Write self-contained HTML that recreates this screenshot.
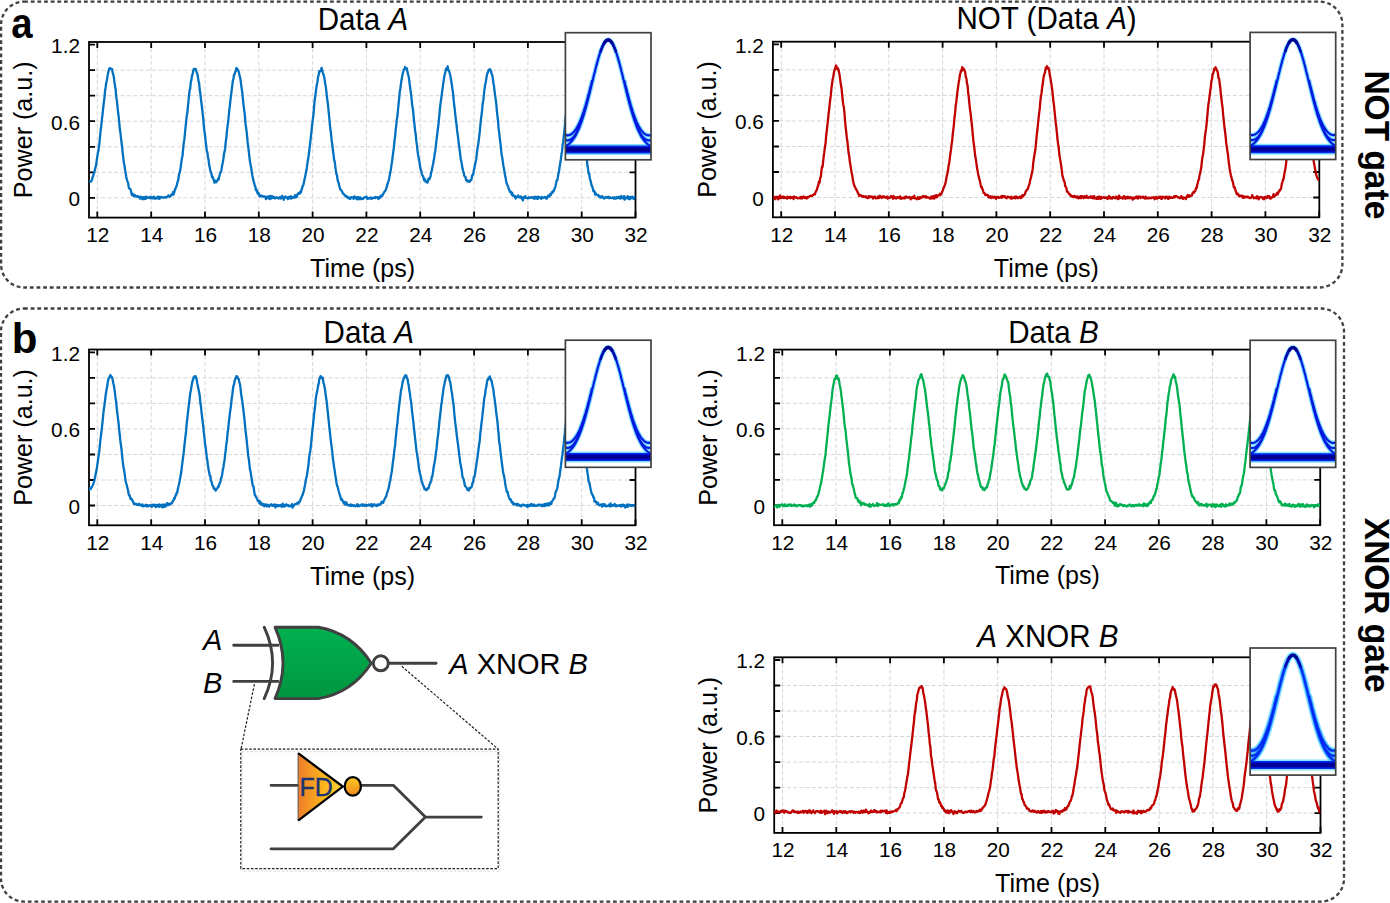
<!DOCTYPE html>
<html><head><meta charset="utf-8"><title>XNOR</title>
<style>html,body{margin:0;padding:0;background:#fff;overflow:hidden}svg{display:block}</style>
</head><body>
<svg width="1390" height="903" viewBox="0 0 1390 903" font-family='"Liberation Sans", sans-serif'>
<rect width="1390" height="903" fill="#fff"/>
<rect x="1.1" y="1.6" width="1341.3" height="285.9" rx="23" fill="none" stroke="#404040" stroke-width="2.3" stroke-dasharray="3.8 2.85"/>
<rect x="1" y="308.5" width="1343" height="593.1" rx="23" fill="none" stroke="#404040" stroke-width="2.3" stroke-dasharray="3.8 2.85"/>
<text transform="translate(11.2 37.6) scale(0.912 1)" font-size="42" font-weight="bold">a</text>
<text x="11.7" y="352.8" font-size="42" font-weight="bold">b</text>
<text transform="translate(1365.2 144.85) rotate(90) scale(1 1.06)" font-size="33.5" font-weight="bold" text-anchor="middle">NOT gate</text>
<text transform="translate(1364.9 605.25) rotate(90) scale(1 1.06)" font-size="33.5" font-weight="bold" text-anchor="middle">XNOR gate</text>
<path d="M97.3 42V217.6M151.2 42V217.6M205 42V217.6M258.8 42V217.6M312.6 42V217.6M366.4 42V217.6M420.2 42V217.6M474.1 42V217.6M527.9 42V217.6M581.7 42V217.6M89 197.8H635.5M89 172.3H635.5M89 146.8H635.5M89 121.2H635.5M89 95.7H635.5M89 70.2H635.5" stroke="#d6d6d6" stroke-width="1" stroke-dasharray="4 2.3" fill="none"/>
<path d="M97.3 217.6v-6M97.3 42v6M151.2 217.6v-6M151.2 42v6M205 217.6v-6M205 42v6M258.8 217.6v-6M258.8 42v6M312.6 217.6v-6M312.6 42v6M366.4 217.6v-6M366.4 42v6M420.2 217.6v-6M420.2 42v6M474.1 217.6v-6M474.1 42v6M527.9 217.6v-6M527.9 42v6M581.7 217.6v-6M581.7 42v6M635.5 217.6v-6M635.5 42v6M89 197.8h6M635.5 197.8h-6M89 172.3h6M635.5 172.3h-6M89 146.8h6M635.5 146.8h-6M89 121.2h6M635.5 121.2h-6M89 95.7h6M635.5 95.7h-6M89 70.2h6M635.5 70.2h-6M89 44.7h6M635.5 44.7h-6" stroke="#000" stroke-width="1.8" fill="none"/>
<rect x="89" y="42" width="546.5" height="175.6" stroke="#000" stroke-width="1.8" fill="none"/>
<clipPath id="c1"><rect x="89" y="42" width="546.5" height="175.6"/></clipPath>
<polyline clip-path="url(#c1)" points="89,182 89.6,181.4 90.2,181.8 90.8,181.4 91.4,181.1 92,179.6 92.6,177.3 93.1,176.3 93.7,173.9 94.3,172.4 94.9,169.8 95.5,167.2 96.1,165.6 96.7,160.3 97.3,156.8 97.9,152.8 98.5,150.3 99.1,145.8 99.7,140.3 100.2,135 100.8,129.3 101.4,124.3 102,118.5 102.6,114 103.2,107.9 103.8,102.5 104.4,98.2 105,91.5 105.6,87.7 106.2,83 106.8,80.5 107.4,77.1 107.9,73.9 108.5,71.4 109.1,69 109.7,68.2 110.3,68.2 110.9,68.7 111.5,69.1 112.1,69.2 112.7,72.8 113.3,74.6 113.9,77.6 114.5,82.7 115,85.7 115.6,89.2 116.2,96.6 116.8,100.4 117.4,105.6 118,111.6 118.6,116.2 119.2,122.2 119.8,128.8 120.4,132.5 121,138 121.6,143 122.2,147.5 122.7,153.1 123.3,157.8 123.9,163.1 124.5,165.5 125.1,170.1 125.7,173.3 126.3,177 126.9,179.6 127.5,181.7 128.1,182.6 128.7,187.1 129.3,188.5 129.8,188.7 130.4,189.2 131,191 131.6,194 132.2,195.3 132.8,193.9 133.4,195.3 134,196.2 134.6,195 135.2,195.3 135.8,196.3 136.4,196.5 136.9,196.6 137.5,195.9 138.1,196.8 138.7,197 139.3,197 139.9,198.7 140.5,196.6 141.1,196.9 141.7,197.3 142.3,199.2 142.9,198.2 143.5,197.1 144.1,199.1 144.6,197.9 145.2,197 145.8,198.8 146.4,196.6 147,197.4 147.6,197.9 148.2,197.5 148.8,197.3 149.4,197.7 150,196.9 150.6,198.3 151.2,198.1 151.7,197 152.3,197.8 152.9,198.5 153.5,197.1 154.1,196.7 154.7,198.1 155.3,198.9 155.9,197.9 156.5,197.9 157.1,198 157.7,196.7 158.3,198.6 158.9,196.8 159.4,198.8 160,198.4 160.6,197.3 161.2,196.9 161.8,197.1 162.4,197.5 163,197.6 163.6,197.6 164.2,197.2 164.8,197.7 165.4,197.3 166,197 166.5,197.4 167.1,196.7 167.7,196.7 168.3,195.4 168.9,196.5 169.5,196.8 170.1,196.5 170.7,195.8 171.3,194.6 171.9,195.1 172.5,193.9 173.1,192 173.7,194.5 174.2,192.4 174.8,190.2 175.4,188.7 176,187.3 176.6,186 177.2,183.2 177.8,181.3 178.4,179.4 179,174.4 179.6,172.9 180.2,170.3 180.8,166.4 181.3,162.6 181.9,158.3 182.5,155.9 183.1,149.5 183.7,143.4 184.3,139.9 184.9,133.8 185.5,127.6 186.1,122.1 186.7,116.1 187.3,113.1 187.9,106.6 188.5,101.3 189,95.5 189.6,90.3 190.2,88.8 190.8,81.8 191.4,80.1 192,75.3 192.6,74.4 193.2,71.1 193.8,69 194.4,69.2 195,68.8 195.6,68.9 196.1,70.5 196.7,72.5 197.3,73.6 197.9,76.8 198.5,81.2 199.1,82.8 199.7,90 200.3,93 200.9,98.8 201.5,103.5 202.1,108.3 202.7,114 203.3,119.1 203.8,126 204.4,131.2 205,134.7 205.6,140.9 206.2,145.7 206.8,150.5 207.4,152.6 208,157 208.6,160.1 209.2,165.3 209.8,167.6 210.4,171.2 210.9,172.2 211.5,173.7 212.1,177.4 212.7,177 213.3,178.7 213.9,180.6 214.5,182.7 215.1,180.6 215.7,181.9 216.3,182.2 216.9,181.1 217.5,180.5 218.1,178.8 218.6,179.5 219.2,176.5 219.8,174.5 220.4,172.5 221,171.4 221.6,169.2 222.2,165 222.8,162.4 223.4,158.9 224,154 224.6,151.2 225.2,148.4 225.7,142.2 226.3,138.5 226.9,131.4 227.5,126.6 228.1,122 228.7,116.2 229.3,110.2 229.9,105.4 230.5,99.3 231.1,95.4 231.7,89.8 232.3,85.1 232.8,81 233.4,79.1 234,74.8 234.6,74.4 235.2,71.7 235.8,71 236.4,67.9 237,69.5 237.6,69.1 238.2,70.4 238.8,72 239.4,74.8 240,77.1 240.5,79.4 241.1,84.6 241.7,88.6 242.3,92.9 242.9,98.8 243.5,104.8 244.1,109.7 244.7,113.9 245.3,121.6 245.9,126.3 246.5,130.6 247.1,136.1 247.6,141.9 248.2,146.3 248.8,151.6 249.4,157.2 250,161.8 250.6,165.1 251.2,167.7 251.8,172.3 252.4,175.7 253,178.4 253.6,181.6 254.2,182.9 254.8,185.8 255.3,186.5 255.9,190.2 256.5,189.5 257.1,191.5 257.7,193.6 258.3,192.5 258.9,194.1 259.5,196.3 260.1,195.8 260.7,195.4 261.3,196.4 261.9,195.8 262.4,196.1 263,196.4 263.6,196.8 264.2,196.2 264.8,196.8 265.4,197.1 266,199.1 266.6,196.9 267.2,196.6 267.8,197.9 268.4,198.1 269,196.2 269.6,199.1 270.1,197.4 270.7,195.9 271.3,198.5 271.9,197.3 272.5,196.3 273.1,197.9 273.7,197.4 274.3,197.1 274.9,198.5 275.5,197.9 276.1,197.6 276.7,197.2 277.2,197.8 277.8,197.9 278.4,198.6 279,198.1 279.6,197.1 280.2,197.7 280.8,198.5 281.4,198.4 282,195.8 282.6,196.9 283.2,197.3 283.8,199.8 284.4,197.3 284.9,197.4 285.5,196.5 286.1,197.5 286.7,197.8 287.3,197.4 287.9,199.2 288.5,196.9 289.1,197.5 289.7,198.2 290.3,196.6 290.9,196.2 291.5,198.6 292,198 292.6,197.2 293.2,197.2 293.8,197.5 294.4,197.8 295,195.2 295.6,195.8 296.2,197.2 296.8,197 297.4,194.2 298,194.3 298.6,193 299.2,193.1 299.7,193.6 300.3,191.7 300.9,192.5 301.5,190.1 302.1,188.1 302.7,186 303.3,185.1 303.9,182.5 304.5,179.6 305.1,177.1 305.7,173.9 306.3,171.1 306.8,168 307.4,163.3 308,159.8 308.6,156.1 309.2,151.4 309.8,146.1 310.4,141.1 311,135.6 311.6,130.3 312.2,124.7 312.8,119.4 313.4,114.7 314,108 314.5,102.1 315.1,97.4 315.7,93 316.3,87.9 316.9,84.7 317.5,81.6 318.1,76.8 318.7,74.7 319.3,71.2 319.9,71 320.5,71.2 321.1,69.6 321.6,67.9 322.2,70.3 322.8,72.6 323.4,74.4 324,76.1 324.6,79.4 325.2,83.5 325.8,86.7 326.4,91.8 327,97.3 327.6,102 328.2,106.5 328.7,112.5 329.3,118 329.9,125.2 330.5,130 331.1,134.7 331.7,140.7 332.3,144.8 332.9,150 333.5,154.4 334.1,159.6 334.7,161.6 335.3,166.4 335.9,171.1 336.4,174.1 337,175.1 337.6,180 338.2,181.5 338.8,183.6 339.4,186.2 340,188.8 340.6,189.3 341.2,190.4 341.8,191 342.4,192.2 343,193.6 343.5,193.7 344.1,194.6 344.7,195.3 345.3,195.9 345.9,196.5 346.5,196 347.1,197.6 347.7,197.5 348.3,197.2 348.9,198.4 349.5,197.7 350.1,199 350.7,198.1 351.2,197.2 351.8,197.2 352.4,197.7 353,197.9 353.6,198.8 354.2,196.4 354.8,197.4 355.4,196.9 356,198.5 356.6,197.9 357.2,199.2 357.8,197.2 358.3,197.1 358.9,199.2 359.5,197.8 360.1,197.3 360.7,199.1 361.3,199.2 361.9,198.6 362.5,198.3 363.1,198.9 363.7,197.8 364.3,197.6 364.9,197.3 365.5,197.3 366,196.6 366.6,196.9 367.2,198.8 367.8,198.2 368.4,198.6 369,198.6 369.6,197.8 370.2,197.8 370.8,197.4 371.4,199 372,198.7 372.6,197.8 373.1,197.9 373.7,197.9 374.3,197.7 374.9,198.2 375.5,197 376.1,197.2 376.7,197.5 377.3,197.9 377.9,197.3 378.5,199.1 379.1,197.6 379.7,196.6 380.3,197.5 380.8,195.9 381.4,195.5 382,196.2 382.6,194.8 383.2,194.1 383.8,192.8 384.4,191.7 385,191.1 385.6,190.5 386.2,188.6 386.8,186.9 387.4,184.4 387.9,182.7 388.5,181.1 389.1,179 389.7,175.4 390.3,172.5 390.9,169.4 391.5,164.9 392.1,161.2 392.7,156.4 393.3,151.5 393.9,147.4 394.5,140.3 395.1,137.1 395.6,130.6 396.2,125.8 396.8,119.5 397.4,116.6 398,109.8 398.6,103.6 399.2,98.1 399.8,91.7 400.4,88.5 401,83.4 401.6,79.8 402.2,76.1 402.7,73.5 403.3,71.6 403.9,69.2 404.5,69.2 405.1,67 405.7,68.7 406.3,68.5 406.9,68.4 407.5,72.1 408.1,74.5 408.7,76.7 409.3,81.2 409.9,85.8 410.4,89.4 411,93.9 411.6,98.8 412.2,105.1 412.8,108.5 413.4,113.9 414,120.5 414.6,125.7 415.2,131.5 415.8,135.2 416.4,141.7 417,145.4 417.5,150.7 418.1,155 418.7,157.9 419.3,161 419.9,165.3 420.5,168.8 421.1,170.3 421.7,173.3 422.3,175.1 422.9,175.9 423.5,177.7 424.1,180.1 424.6,178.9 425.2,181.3 425.8,181 426.4,182.2 427,181.6 427.6,182.5 428.2,179.1 428.8,178.5 429.4,179.2 430,177.9 430.6,176.2 431.2,172 431.8,170.8 432.3,167.8 432.9,165 433.5,161.5 434.1,158.6 434.7,153.8 435.3,150.7 435.9,145.2 436.5,140.2 437.1,135.1 437.7,130.5 438.3,125.8 438.9,119.7 439.4,114.8 440,107.9 440.6,103.2 441.2,98.8 441.8,94.2 442.4,89.7 443,85.6 443.6,81.2 444.2,77.3 444.8,74.1 445.4,71.7 446,68.7 446.6,69.6 447.1,68.4 447.7,66.3 448.3,70.5 448.9,70.8 449.5,72.2 450.1,74.7 450.7,77.5 451.3,81.5 451.9,85 452.5,89.5 453.1,93.6 453.7,100.6 454.2,105 454.8,109.6 455.4,115.7 456,121.1 456.6,125.1 457.2,131.3 457.8,135.4 458.4,140.3 459,145.3 459.6,149.6 460.2,154.3 460.8,159.2 461.4,161.8 461.9,164.7 462.5,168.4 463.1,170.8 463.7,172.5 464.3,175.9 464.9,176.5 465.5,177.1 466.1,180.1 466.7,180.5 467.3,181.4 467.9,180.5 468.5,181.6 469,181 469.6,181.9 470.2,180.7 470.8,179.8 471.4,180 472,176 472.6,174.7 473.2,174.7 473.8,170.4 474.4,168.4 475,165 475.6,161.8 476.2,159.7 476.7,154.8 477.3,149.3 477.9,146.5 478.5,142.2 479.1,137.6 479.7,132.4 480.3,126 480.9,119.7 481.5,115.3 482.1,110.2 482.7,103.4 483.3,100.4 483.8,95.6 484.4,90 485,85.7 485.6,83 486.2,79.6 486.8,75.5 487.4,73.1 488,72.4 488.6,70.2 489.2,69.8 489.8,69.1 490.4,70.1 491,71.3 491.5,73.4 492.1,74.8 492.7,77.5 493.3,82.4 493.9,85.4 494.5,91 495.1,95.1 495.7,99.6 496.3,104.2 496.9,111.1 497.5,116.3 498.1,121.6 498.6,128.4 499.2,132.7 499.8,138.5 500.4,142.9 501,149 501.6,154.4 502.2,157.3 502.8,161.4 503.4,166 504,168.5 504.6,172.8 505.2,176.1 505.7,178.1 506.3,182.2 506.9,183.8 507.5,185.3 508.1,186.5 508.7,188.8 509.3,189.8 509.9,191.8 510.5,192.1 511.1,192 511.7,194.5 512.3,192.9 512.9,195.7 513.4,195.7 514,196 514.6,195.6 515.2,197.6 515.8,198.5 516.4,196.6 517,196.6 517.6,196.9 518.2,195.4 518.8,197.4 519.4,197.4 520,196.9 520.5,197.4 521.1,196.4 521.7,198.7 522.3,198 522.9,200.4 523.5,197.1 524.1,198.1 524.7,197.1 525.3,196.1 525.9,197.8 526.5,198 527.1,198.2 527.7,198.4 528.2,198.3 528.8,197.3 529.4,197.8 530,197.7 530.6,197.9 531.2,197.1 531.8,197.4 532.4,197.9 533,197.3 533.6,197.9 534.2,198.7 534.8,196.7 535.3,197.4 535.9,198.5 536.5,197 537.1,197.5 537.7,199 538.3,196.6 538.9,197.5 539.5,197.1 540.1,197.6 540.7,197.9 541.3,198.9 541.9,197 542.5,197.7 543,197.9 543.6,197.3 544.2,197.5 544.8,197 545.4,197.7 546,197.3 546.6,198.8 547.2,197.3 547.8,196.3 548.4,195.5 549,196.5 549.6,196 550.1,194.3 550.7,195.2 551.3,193.8 551.9,192.3 552.5,192.8 553.1,190.9 553.7,191.2 554.3,189.2 554.9,188 555.5,186.1 556.1,183.4 556.7,180.3 557.3,180.2 557.8,177.5 558.4,173.7 559,171.7 559.6,167 560.2,163.2 560.8,159.7 561.4,154.8 562,151.7 562.6,145.1 563.2,141.9 563.8,136 564.4,130.5 564.9,125 565.5,118.5 566.1,113.6 566.7,108.6 567.3,102.6 567.9,96.7 568.5,93.1 569.1,88.3 569.7,83.5 570.3,80.6 570.9,78.6 571.5,73 572.1,71.1 572.6,72.8 573.2,70.5 573.8,69.9 574.4,69.9 575,71.1 575.6,73.5 576.2,76.4 576.8,78.3 577.4,81 578,86.4 578.6,90.6 579.2,94.4 579.7,100.8 580.3,104.6 580.9,110.1 581.5,114.8 582.1,121.2 582.7,126.8 583.3,131.9 583.9,136.9 584.5,142.6 585.1,147 585.7,151.3 586.3,155.5 586.9,159.3 587.4,165.3 588,168.7 588.6,173.7 589.2,173.5 589.8,178.4 590.4,180.4 591,182.4 591.6,185.9 592.2,186.3 592.8,188.3 593.4,191.2 594,190.8 594.5,191.2 595.1,194.5 595.7,193.2 596.3,194.4 596.9,194.7 597.5,195.3 598.1,195 598.7,196.5 599.3,196 599.9,197.2 600.5,196.5 601.1,197.8 601.6,197.4 602.2,196.1 602.8,197.2 603.4,197.7 604,198.5 604.6,198.3 605.2,197.5 605.8,197 606.4,197.4 607,197.4 607.6,197.8 608.2,196.7 608.8,198.1 609.3,198.2 609.9,197.1 610.5,197.7 611.1,198 611.7,198.2 612.3,198 612.9,197.3 613.5,197.5 614.1,198.7 614.7,197.5 615.3,197.7 615.9,198.6 616.4,197.2 617,198 617.6,198.1 618.2,197.2 618.8,196.8 619.4,198.3 620,197.5 620.6,198.5 621.2,196 621.8,198.2 622.4,196.9 623,198.3 623.6,197.2 624.1,196.1 624.7,199.7 625.3,198.1 625.9,197.4 626.5,197.9 627.1,198.3 627.7,196.2 628.3,197.7 628.9,199.1 629.5,197.1 630.1,199.1 630.7,196.9 631.2,198.2 631.8,197.7 632.4,196.8 633,197.7 633.6,198.9 634.2,199.1 634.8,196.9 635.4,197.2" stroke="#0070c0" stroke-width="2.3" fill="none" stroke-linejoin="round"/>
<g font-size="20.8"><text x="97.8" y="241.9" text-anchor="middle">12</text><text x="151.7" y="241.9" text-anchor="middle">14</text><text x="205.5" y="241.9" text-anchor="middle">16</text><text x="259.3" y="241.9" text-anchor="middle">18</text><text x="313.1" y="241.9" text-anchor="middle">20</text><text x="366.9" y="241.9" text-anchor="middle">22</text><text x="420.7" y="241.9" text-anchor="middle">24</text><text x="474.6" y="241.9" text-anchor="middle">26</text><text x="528.4" y="241.9" text-anchor="middle">28</text><text x="582.2" y="241.9" text-anchor="middle">30</text><text x="636" y="241.9" text-anchor="middle">32</text><text x="80" y="206.1" text-anchor="end">0</text><text x="80" y="129.5" text-anchor="end">0.6</text><text x="80" y="53" text-anchor="end">1.2</text></g>
<text transform="translate(362.6 276.8) scale(1 1.035)" font-size="25.1" text-anchor="middle">Time (ps)</text>
<text transform="translate(31.9 129.8) rotate(-90) scale(1 1.035)" font-size="25.1" text-anchor="middle">Power (a.u.)</text>
<text transform="translate(362.9 29.7) scale(0.97 1)" font-size="30.5" text-anchor="middle">Data <tspan font-style="italic">A</tspan></text>
<rect x="565.4" y="32.7" width="85.6" height="127.1" fill="#fff"/>
<g fill="none" stroke-linejoin="round" stroke-linecap="round" clip-path="url(#e565_32)">
<clipPath id="e565_32"><rect x="565.4" y="32.7" width="85.6" height="127.1"/></clipPath>
<path d="M565.4 149.6H651" stroke="#30d0ff" stroke-width="11" opacity="0.6"/>
<path d="M565.4,146.4 L566.4,145.8 L567.3,145.2 L568.3,144.5 L569.2,143.7 L570.2,142.8 L571.1,141.8 L572.1,140.7 L573,139.5 L574,138.1 L574.9,136.6 L575.9,134.9 L576.8,133.1 L577.8,131.1 L578.7,129 L579.7,126.7 L580.6,124.2 L581.6,121.5 L582.5,118.7 L583.5,115.7 L584.4,112.6 L585.4,109.3 L586.3,105.8 L587.3,102.3 L588.2,98.6 L589.2,94.8 L590.1,91 L591.1,87.1 L592,83.1 L593,79.2 L593.9,75.3 L594.9,71.5 L595.8,67.7 L596.8,64.1 L597.7,60.6 L598.7,57.3 L599.6,54.2 L600.6,51.3 L601.5,48.7 L602.5,46.4 L603.4,44.4 L604.4,42.7 L605.3,41.4 L606.3,40.5 L607.2,39.9 L608.2,39.7 L609.2,39.9 L610.1,40.5 L611.1,41.4 L612,42.7 L613,44.4 L613.9,46.4 L614.9,48.7 L615.8,51.3 L616.8,54.2 L617.7,57.3 L618.7,60.6 L619.6,64.1 L620.6,67.7 L621.5,71.5 L622.5,75.3 L623.4,79.2 L624.4,83.1 L625.3,87.1 L626.3,91 L627.2,94.8 L628.2,98.6 L629.1,102.3 L630.1,105.8 L631,109.3 L632,112.6 L632.9,115.7 L633.9,118.7 L634.8,121.5 L635.8,124.2 L636.7,126.7 L637.7,129 L638.6,131.1 L639.6,133.1 L640.5,134.9 L641.5,136.6 L642.4,138.1 L643.4,139.5 L644.3,140.7 L645.3,141.8 L646.2,142.8 L647.2,143.7 L648.1,144.5 L649.1,145.2 L650,145.8 L651,146.4 M565.4,135 L566.4,135.3 L567.3,135.4 L568.3,135.3 L569.2,135.1 L570.2,134.8 L571.1,134.3 L572.1,133.6 L573,132.8 L574,131.8 L574.9,130.6 L575.9,129.3 L576.8,127.7 L577.8,126 L578.7,124.2 L579.7,122.1 L580.6,119.9 L581.6,117.4 L582.5,114.8 L583.5,112.1 L584.4,109.1 L585.4,106 L586.3,102.7 L587.3,99.3 L588.2,95.8 L589.2,92.2 L590.1,88.4 L591.1,84.7 L592,80.9 M624.4,80.9 L625.3,84.7 L626.3,88.4 L627.2,92.2 L628.2,95.8 L629.1,99.3 L630.1,102.7 L631,106 L632,109.1 L632.9,112.1 L633.9,114.8 L634.8,117.4 L635.8,119.9 L636.7,122.1 L637.7,124.2 L638.6,126 L639.6,127.7 L640.5,129.3 L641.5,130.6 L642.4,131.8 L643.4,132.8 L644.3,133.6 L645.3,134.3 L646.2,134.8 L647.2,135.1 L648.1,135.3 L649.1,135.4 L650,135.3 L651,135 M565.4,140 L566.4,140.3 L567.3,140.4 L568.3,140.4 L569.2,140.1 L570.2,139.8 L571.1,139.2 L572.1,138.4 L573,137.5 L574,136.4 L574.9,135.1 L575.9,133.7 L576.8,132 L577.8,130.2 L578.7,128.1 L579.7,125.9 L580.6,123.5 L581.6,120.9 L582.5,118.1 L583.5,115.1 L584.4,112 L585.4,108.7 L586.3,105.3 L587.3,101.7 L588.2,98 L589.2,94.2 L590.1,90.3 L591.1,86.4 L592,82.4 M624.4,82.4 L625.3,86.4 L626.3,90.3 L627.2,94.2 L628.2,98 L629.1,101.7 L630.1,105.3 L631,108.7 L632,112 L632.9,115.1 L633.9,118.1 L634.8,120.9 L635.8,123.5 L636.7,125.9 L637.7,128.1 L638.6,130.2 L639.6,132 L640.5,133.7 L641.5,135.1 L642.4,136.4 L643.4,137.5 L644.3,138.4 L645.3,139.2 L646.2,139.8 L647.2,140.1 L648.1,140.4 L649.1,140.4 L650,140.3 L651,140" stroke="#20c0ff" stroke-width="4.4" opacity="0.6"/>
<path d="M565.4 149.6H651" stroke="#0028e8" stroke-width="8"/>
<path d="M565.4,146.4 L566.4,145.8 L567.3,145.2 L568.3,144.5 L569.2,143.7 L570.2,142.8 L571.1,141.8 L572.1,140.7 L573,139.5 L574,138.1 L574.9,136.6 L575.9,134.9 L576.8,133.1 L577.8,131.1 L578.7,129 L579.7,126.7 L580.6,124.2 L581.6,121.5 L582.5,118.7 L583.5,115.7 L584.4,112.6 L585.4,109.3 L586.3,105.8 L587.3,102.3 L588.2,98.6 L589.2,94.8 L590.1,91 L591.1,87.1 L592,83.1 L593,79.2 L593.9,75.3 L594.9,71.5 L595.8,67.7 L596.8,64.1 L597.7,60.6 L598.7,57.3 L599.6,54.2 L600.6,51.3 L601.5,48.7 L602.5,46.4 L603.4,44.4 L604.4,42.7 L605.3,41.4 L606.3,40.5 L607.2,39.9 L608.2,39.7 L609.2,39.9 L610.1,40.5 L611.1,41.4 L612,42.7 L613,44.4 L613.9,46.4 L614.9,48.7 L615.8,51.3 L616.8,54.2 L617.7,57.3 L618.7,60.6 L619.6,64.1 L620.6,67.7 L621.5,71.5 L622.5,75.3 L623.4,79.2 L624.4,83.1 L625.3,87.1 L626.3,91 L627.2,94.8 L628.2,98.6 L629.1,102.3 L630.1,105.8 L631,109.3 L632,112.6 L632.9,115.7 L633.9,118.7 L634.8,121.5 L635.8,124.2 L636.7,126.7 L637.7,129 L638.6,131.1 L639.6,133.1 L640.5,134.9 L641.5,136.6 L642.4,138.1 L643.4,139.5 L644.3,140.7 L645.3,141.8 L646.2,142.8 L647.2,143.7 L648.1,144.5 L649.1,145.2 L650,145.8 L651,146.4 M565.4,135 L566.4,135.3 L567.3,135.4 L568.3,135.3 L569.2,135.1 L570.2,134.8 L571.1,134.3 L572.1,133.6 L573,132.8 L574,131.8 L574.9,130.6 L575.9,129.3 L576.8,127.7 L577.8,126 L578.7,124.2 L579.7,122.1 L580.6,119.9 L581.6,117.4 L582.5,114.8 L583.5,112.1 L584.4,109.1 L585.4,106 L586.3,102.7 L587.3,99.3 L588.2,95.8 L589.2,92.2 L590.1,88.4 L591.1,84.7 L592,80.9 M624.4,80.9 L625.3,84.7 L626.3,88.4 L627.2,92.2 L628.2,95.8 L629.1,99.3 L630.1,102.7 L631,106 L632,109.1 L632.9,112.1 L633.9,114.8 L634.8,117.4 L635.8,119.9 L636.7,122.1 L637.7,124.2 L638.6,126 L639.6,127.7 L640.5,129.3 L641.5,130.6 L642.4,131.8 L643.4,132.8 L644.3,133.6 L645.3,134.3 L646.2,134.8 L647.2,135.1 L648.1,135.3 L649.1,135.4 L650,135.3 L651,135 M565.4,140 L566.4,140.3 L567.3,140.4 L568.3,140.4 L569.2,140.1 L570.2,139.8 L571.1,139.2 L572.1,138.4 L573,137.5 L574,136.4 L574.9,135.1 L575.9,133.7 L576.8,132 L577.8,130.2 L578.7,128.1 L579.7,125.9 L580.6,123.5 L581.6,120.9 L582.5,118.1 L583.5,115.1 L584.4,112 L585.4,108.7 L586.3,105.3 L587.3,101.7 L588.2,98 L589.2,94.2 L590.1,90.3 L591.1,86.4 L592,82.4 M624.4,82.4 L625.3,86.4 L626.3,90.3 L627.2,94.2 L628.2,98 L629.1,101.7 L630.1,105.3 L631,108.7 L632,112 L632.9,115.1 L633.9,118.1 L634.8,120.9 L635.8,123.5 L636.7,125.9 L637.7,128.1 L638.6,130.2 L639.6,132 L640.5,133.7 L641.5,135.1 L642.4,136.4 L643.4,137.5 L644.3,138.4 L645.3,139.2 L646.2,139.8 L647.2,140.1 L648.1,140.4 L649.1,140.4 L650,140.3 L651,140" stroke="#0018e0" stroke-width="2.1"/>
<path d="M565.4 149.6H651" stroke="#0000b8" stroke-width="5"/>
<path d="M565.4 149.6H651" stroke="#000090" stroke-width="3"/>
<path d="M600.6,51.5 L601.5,48.9 L602.5,46.6 L603.4,44.6 L604.4,42.9 L605.3,41.6 L606.3,40.7 L607.2,40.1 L608.2,39.9 L609.2,40.1 L610.1,40.7 L611.1,41.6 L612,42.9 L613,44.6 L613.9,46.6 L614.9,48.9 L615.8,51.5" stroke="#0008b0" stroke-width="2.6"/>
<path d="M604.4,42.9 L605.3,41.6 L606.3,40.7 L607.2,40.1 L608.2,39.9 L609.2,40.1 L610.1,40.7 L611.1,41.6 L612,42.9" stroke="#000090" stroke-width="3.2"/>
</g>
<rect x="565.4" y="32.7" width="85.6" height="127.1" fill="none" stroke="#404040" stroke-width="1.7"/>
<path d="M781.2 41.7V217.3M835 41.7V217.3M888.8 41.7V217.3M942.6 41.7V217.3M996.4 41.7V217.3M1050.2 41.7V217.3M1104 41.7V217.3M1157.8 41.7V217.3M1211.6 41.7V217.3M1265.4 41.7V217.3M772.9 197.5H1319.2M772.9 172H1319.2M772.9 146.5H1319.2M772.9 120.9H1319.2M772.9 95.4H1319.2M772.9 69.9H1319.2" stroke="#d6d6d6" stroke-width="1" stroke-dasharray="4 2.3" fill="none"/>
<path d="M781.2 217.3v-6M781.2 41.7v6M835 217.3v-6M835 41.7v6M888.8 217.3v-6M888.8 41.7v6M942.6 217.3v-6M942.6 41.7v6M996.4 217.3v-6M996.4 41.7v6M1050.2 217.3v-6M1050.2 41.7v6M1104 217.3v-6M1104 41.7v6M1157.8 217.3v-6M1157.8 41.7v6M1211.6 217.3v-6M1211.6 41.7v6M1265.4 217.3v-6M1265.4 41.7v6M1319.2 217.3v-6M1319.2 41.7v6M772.9 197.5h6M1319.2 197.5h-6M772.9 172h6M1319.2 172h-6M772.9 146.5h6M1319.2 146.5h-6M772.9 120.9h6M1319.2 120.9h-6M772.9 95.4h6M1319.2 95.4h-6M772.9 69.9h6M1319.2 69.9h-6M772.9 44.4h6M1319.2 44.4h-6" stroke="#000" stroke-width="1.8" fill="none"/>
<rect x="772.9" y="41.7" width="546.4" height="175.6" stroke="#000" stroke-width="1.8" fill="none"/>
<clipPath id="c2"><rect x="772.9" y="41.7" width="546.4" height="175.6"/></clipPath>
<polyline clip-path="url(#c2)" points="772.9,198.1 773.4,196.8 774,197.1 774.6,197 775.2,199.2 775.8,197.7 776.4,196.8 777,196.9 777.6,196.8 778.2,199.4 778.8,197.4 779.4,197.1 780,195.5 780.5,198.2 781.1,197.8 781.7,197.5 782.3,196.8 782.9,197.8 783.5,196.6 784.1,198.1 784.7,197.3 785.3,197.9 785.9,197.4 786.5,198 787.1,198.7 787.6,196.7 788.2,197.3 788.8,197.9 789.4,197.3 790,196.7 790.6,198.2 791.2,197.6 791.8,197.1 792.4,197.1 793,197.8 793.6,199.1 794.2,196.5 794.7,197.2 795.3,197.5 795.9,197.7 796.5,197.3 797.1,197.8 797.7,198.3 798.3,198.1 798.9,198 799.5,198 800.1,198.4 800.7,197 801.3,198.5 801.8,197 802.4,198.2 803,197.2 803.6,196.4 804.2,197.3 804.8,198 805.4,197.3 806,197.2 806.6,198.6 807.2,197.7 807.8,197 808.4,197.4 809,196.9 809.5,196.2 810.1,196 810.7,195.7 811.3,195.7 811.9,196 812.5,195.4 813.1,195.1 813.7,194.6 814.3,193.9 814.9,194.3 815.5,192.3 816.1,191 816.6,190.5 817.2,188.4 817.8,186.4 818.4,185.1 819,181.3 819.6,182.6 820.2,178.2 820.8,176.6 821.4,171.4 822,166.7 822.6,166.9 823.2,160.9 823.7,156.3 824.3,152.4 824.9,147 825.5,144.1 826.1,136.5 826.7,131.5 827.3,126.2 827.9,121.1 828.5,114.5 829.1,109.8 829.7,103.8 830.3,99 830.8,95.2 831.4,88.7 832,84.1 832.6,79.6 833.2,77.2 833.8,73.5 834.4,70.5 835,68.9 835.6,66.8 836.2,65.5 836.8,67.7 837.4,69.2 837.9,68.3 838.5,69.8 839.1,72.7 839.7,75.9 840.3,80.6 840.9,84.8 841.5,88 842.1,94.2 842.7,100 843.3,104.7 843.9,107.5 844.5,113.5 845.1,121.1 845.6,126.8 846.2,131.6 846.8,137.7 847.4,141.4 848,147.5 848.6,153 849.2,155.7 849.8,161.5 850.4,164.8 851,168.7 851.6,172.4 852.2,175 852.7,178.6 853.3,182 853.9,184.6 854.5,185.9 855.1,187.4 855.7,188.4 856.3,189.7 856.9,190.6 857.5,191.9 858.1,193.5 858.7,194.3 859.3,196 859.8,195.1 860.4,195 861,195.4 861.6,196.2 862.2,196.5 862.8,195.9 863.4,196.8 864,196.4 864.6,196.6 865.2,197 865.8,196.2 866.4,197.7 866.9,197.6 867.5,198 868.1,198 868.7,196.2 869.3,196.1 869.9,197.4 870.5,197 871.1,196.6 871.7,196.9 872.3,196.6 872.9,198.5 873.5,198 874,197.1 874.6,196.4 875.2,197.4 875.8,198.2 876.4,197.8 877,198 877.6,198.2 878.2,196.4 878.8,198 879.4,197.5 880,195.8 880.6,196.6 881.2,197.2 881.7,198 882.3,197.2 882.9,196.3 883.5,197 884.1,196.5 884.7,197.4 885.3,197.1 885.9,197.7 886.5,197.2 887.1,196.5 887.7,198.6 888.3,197.5 888.8,197.3 889.4,197.9 890,197.7 890.6,196.9 891.2,196 891.8,197 892.4,197.3 893,198.7 893.6,196 894.2,197.4 894.8,197.5 895.4,198.4 895.9,197.5 896.5,198.3 897.1,197.4 897.7,197.1 898.3,197.5 898.9,197.3 899.5,198.2 900.1,196.4 900.7,198 901.3,198.9 901.9,197.6 902.5,198.1 903,198.3 903.6,197.8 904.2,197.3 904.8,198.4 905.4,197.6 906,196.4 906.6,197 907.2,197.6 907.8,197.4 908.4,197.6 909,197.5 909.6,196.9 910.2,197.6 910.7,199.3 911.3,197.5 911.9,198.2 912.5,197 913.1,198 913.7,197.4 914.3,195.8 914.9,198.3 915.5,198.4 916.1,198.6 916.7,199.3 917.3,198.9 917.8,197.2 918.4,198 919,198.9 919.6,198.6 920.2,197 920.8,198.1 921.4,197.8 922,197.2 922.6,196.5 923.2,196 923.8,196.7 924.4,197.4 924.9,197.4 925.5,196.1 926.1,196.4 926.7,197.7 927.3,197.1 927.9,197.3 928.5,197.4 929.1,197.8 929.7,198.5 930.3,197.8 930.9,198.6 931.5,196.5 932,196.9 932.6,198.2 933.2,196.2 933.8,196.5 934.4,198.6 935,195.6 935.6,196.2 936.2,195.1 936.8,197.4 937.4,195.8 938,195.6 938.6,195.4 939.1,195 939.7,193.8 940.3,195.2 940.9,194.3 941.5,193.5 942.1,191.9 942.7,190.8 943.3,188.7 943.9,187.3 944.5,185.8 945.1,184.4 945.7,182 946.3,178.5 946.8,176 947.4,173.5 948,170.6 948.6,165.6 949.2,163.4 949.8,158.3 950.4,153.5 951,149.9 951.6,144.2 952.2,140.5 952.8,133.6 953.4,128.8 953.9,124.6 954.5,117.3 955.1,113 955.7,105.8 956.3,101.9 956.9,96.4 957.5,91.1 958.1,87 958.7,82.3 959.3,79.2 959.9,75 960.5,72.7 961,70.4 961.6,71.2 962.2,67.2 962.8,67.8 963.4,69.6 964,69.2 964.6,70.6 965.2,72.4 965.8,76.9 966.4,78.2 967,83.4 967.6,85.7 968.1,92.3 968.7,96.7 969.3,102.7 969.9,108.6 970.5,112.5 971.1,118.2 971.7,123.3 972.3,129.3 972.9,135.8 973.5,141.9 974.1,146.2 974.7,151.1 975.2,155.8 975.8,159.1 976.4,163.4 977,167.6 977.6,170.8 978.2,174.3 978.8,176.9 979.4,179.2 980,181.4 980.6,184.8 981.2,187.3 981.8,186.7 982.4,189.2 982.9,189.7 983.5,192.9 984.1,192.9 984.7,193.4 985.3,195.2 985.9,195.1 986.5,194.7 987.1,194.8 987.7,194.8 988.3,197 988.9,197.6 989.5,196.3 990,196.2 990.6,196.9 991.2,198.1 991.8,196.6 992.4,196.7 993,196.9 993.6,197.7 994.2,197.2 994.8,196.8 995.4,197.9 996,198.9 996.6,197.2 997.1,197.1 997.7,197.5 998.3,196.8 998.9,197.9 999.5,197.6 1000.1,197.7 1000.7,197.1 1001.3,196.3 1001.9,197.7 1002.5,195.9 1003.1,196.3 1003.7,196.9 1004.2,197 1004.8,196.1 1005.4,197.6 1006,197.6 1006.6,198.3 1007.2,197.1 1007.8,196.5 1008.4,197.1 1009,197.2 1009.6,197.6 1010.2,197.4 1010.8,198.6 1011.4,196.7 1011.9,197.8 1012.5,198.3 1013.1,198 1013.7,198.1 1014.3,196.8 1014.9,196.6 1015.5,198.4 1016.1,196.7 1016.7,196.6 1017.3,197.7 1017.9,198.3 1018.5,197.7 1019,197.5 1019.6,196.6 1020.2,197 1020.8,198.1 1021.4,196.1 1022,197.2 1022.6,195 1023.2,196.2 1023.8,195.3 1024.4,194.8 1025,193.9 1025.6,191.7 1026.1,191.1 1026.7,190.2 1027.3,189.1 1027.9,189.1 1028.5,186.6 1029.1,184.8 1029.7,183 1030.3,179.5 1030.9,177.8 1031.5,174.9 1032.1,171.9 1032.7,169.2 1033.2,163.4 1033.8,158.8 1034.4,155.3 1035,151.6 1035.6,148 1036.2,140.8 1036.8,134.7 1037.4,130 1038,123.9 1038.6,117.9 1039.2,112.6 1039.8,108.3 1040.3,101.7 1040.9,96.7 1041.5,93.4 1042.1,87.8 1042.7,84.3 1043.3,79.4 1043.9,75.4 1044.5,73.8 1045.1,72.2 1045.7,67.9 1046.3,67.5 1046.9,66.2 1047.5,68.6 1048,67.6 1048.6,68.3 1049.2,70.5 1049.8,74.9 1050.4,77.8 1051,81.8 1051.6,85.2 1052.2,89.7 1052.8,95.3 1053.4,101.6 1054,105.4 1054.6,111.8 1055.1,116.5 1055.7,122.4 1056.3,126.9 1056.9,132.8 1057.5,139.3 1058.1,143.9 1058.7,147.7 1059.3,154.2 1059.9,157.9 1060.5,161.5 1061.1,165.3 1061.7,169.5 1062.2,174.2 1062.8,177.2 1063.4,178.8 1064,181.1 1064.6,181.7 1065.2,186.3 1065.8,186.5 1066.4,188.3 1067,191.5 1067.6,192 1068.2,192.2 1068.8,193.6 1069.3,194.1 1069.9,194.2 1070.5,195.7 1071.1,195.2 1071.7,196.4 1072.3,196.6 1072.9,196.1 1073.5,197.1 1074.1,196.6 1074.7,195.8 1075.3,197.1 1075.9,197.3 1076.4,196.7 1077,197.6 1077.6,196.5 1078.2,198.4 1078.8,196.9 1079.4,197.8 1080,198.1 1080.6,196.1 1081.2,198.1 1081.8,196.1 1082.4,197 1083,196.4 1083.6,198.2 1084.1,196.6 1084.7,196.4 1085.3,197.6 1085.9,197.6 1086.5,195.6 1087.1,197.4 1087.7,197.8 1088.3,198 1088.9,197.2 1089.5,197.2 1090.1,197.4 1090.7,196.2 1091.2,197.8 1091.8,197.1 1092.4,196.4 1093,198.3 1093.6,196.7 1094.2,196.1 1094.8,198.5 1095.4,198.3 1096,198.3 1096.6,198.9 1097.2,197.2 1097.8,198.9 1098.3,197.1 1098.9,196.4 1099.5,198.7 1100.1,197.7 1100.7,199 1101.3,196.9 1101.9,198.1 1102.5,197.7 1103.1,197.5 1103.7,197.1 1104.3,197.8 1104.9,197.5 1105.4,197.9 1106,197.4 1106.6,198.4 1107.2,197.5 1107.8,199 1108.4,197.9 1109,196 1109.6,197.4 1110.2,198.5 1110.8,197.3 1111.4,198.2 1112,198.8 1112.6,198.1 1113.1,196.9 1113.7,197.2 1114.3,197.6 1114.9,198.2 1115.5,198.3 1116.1,196.5 1116.7,197.3 1117.3,198.2 1117.9,199.1 1118.5,198.5 1119.1,195.6 1119.7,198.4 1120.2,197.6 1120.8,197.3 1121.4,197.6 1122,197.7 1122.6,198.6 1123.2,198.3 1123.8,196.2 1124.4,198.1 1125,196.9 1125.6,198.8 1126.2,197.7 1126.8,197.3 1127.3,196.7 1127.9,198.4 1128.5,197 1129.1,197.2 1129.7,198.1 1130.3,197.1 1130.9,198.2 1131.5,198.1 1132.1,197.5 1132.7,199.6 1133.3,197.6 1133.9,198.3 1134.4,198.6 1135,197.8 1135.6,196.9 1136.2,197.8 1136.8,196.5 1137.4,198.4 1138,198.5 1138.6,196.3 1139.2,197.2 1139.8,196.8 1140.4,198.1 1141,196.9 1141.5,197.3 1142.1,197 1142.7,197.5 1143.3,196.6 1143.9,198 1144.5,198.2 1145.1,198.6 1145.7,196.6 1146.3,198.1 1146.9,198.3 1147.5,198.2 1148.1,197.8 1148.7,198.5 1149.2,197.7 1149.8,198 1150.4,197.9 1151,198.2 1151.6,197.5 1152.2,197.9 1152.8,197.4 1153.4,197.3 1154,197.2 1154.6,199.2 1155.2,197.9 1155.8,198.1 1156.3,196.9 1156.9,198.7 1157.5,198 1158.1,197.7 1158.7,197.8 1159.3,196.7 1159.9,197.8 1160.5,196.8 1161.1,198.6 1161.7,198.9 1162.3,196.6 1162.9,197.2 1163.4,197.1 1164,197.4 1164.6,197.1 1165.2,198.4 1165.8,196.8 1166.4,197.9 1167,196.7 1167.6,197.4 1168.2,199 1168.8,198.5 1169.4,196.6 1170,197.6 1170.5,197.8 1171.1,197.3 1171.7,197.8 1172.3,197.9 1172.9,197.4 1173.5,197.4 1174.1,196.3 1174.7,197.5 1175.3,196.1 1175.9,196.1 1176.5,196.2 1177.1,196.7 1177.6,197.4 1178.2,197.4 1178.8,197.6 1179.4,198 1180,197.5 1180.6,198 1181.2,196.2 1181.8,197.1 1182.4,197.8 1183,198.9 1183.6,197.5 1184.2,197.7 1184.8,198.2 1185.3,198.2 1185.9,199 1186.5,196.7 1187.1,197.1 1187.7,195 1188.3,196.9 1188.9,196.8 1189.5,195.3 1190.1,196.1 1190.7,195.8 1191.3,195.8 1191.9,195.5 1192.4,193.4 1193,193.1 1193.6,191.8 1194.2,192.6 1194.8,191.3 1195.4,190.8 1196,188 1196.6,188.3 1197.2,185 1197.8,182.7 1198.4,180.2 1199,179.5 1199.5,175.2 1200.1,173.6 1200.7,170.3 1201.3,167.1 1201.9,161.3 1202.5,156.7 1203.1,154 1203.7,149.4 1204.3,144.2 1204.9,136.8 1205.5,132.6 1206.1,128.4 1206.6,123.8 1207.2,117.4 1207.8,110.4 1208.4,104.4 1209,100.7 1209.6,95.9 1210.2,90.9 1210.8,87.4 1211.4,81.1 1212,79 1212.6,74.1 1213.2,73.6 1213.7,71.2 1214.3,68.6 1214.9,68.6 1215.5,67.3 1216.1,68.4 1216.7,70.4 1217.3,70.8 1217.9,73 1218.5,78.1 1219.1,78.7 1219.7,83.6 1220.3,87.8 1220.9,94.5 1221.4,98.7 1222,103.6 1222.6,108 1223.2,115.4 1223.8,120.6 1224.4,127 1225,131.1 1225.6,136.1 1226.2,142.9 1226.8,147.1 1227.4,151.1 1228,154.8 1228.5,159.8 1229.1,164.6 1229.7,169 1230.3,172.3 1230.9,175.2 1231.5,177.5 1232.1,180.2 1232.7,181.2 1233.3,184.4 1233.9,187.3 1234.5,186.9 1235.1,188.8 1235.6,190.7 1236.2,192.4 1236.8,194.2 1237.4,194.4 1238,193.6 1238.6,195.4 1239.2,196.3 1239.8,195.6 1240.4,195.9 1241,195.9 1241.6,196.1 1242.2,195.7 1242.7,197.6 1243.3,196.3 1243.9,197.9 1244.5,196.7 1245.1,197.1 1245.7,197.1 1246.3,196.6 1246.9,197.4 1247.5,196.6 1248.1,196.8 1248.7,197.4 1249.3,197.9 1249.9,198.1 1250.4,197.9 1251,197.6 1251.6,197.5 1252.2,195.2 1252.8,197 1253.4,196.9 1254,198.2 1254.6,198 1255.2,197.7 1255.8,197.4 1256.4,198.3 1257,196.3 1257.5,197.9 1258.1,196.7 1258.7,199.3 1259.3,197.5 1259.9,197.3 1260.5,197.4 1261.1,197 1261.7,197.3 1262.3,197.4 1262.9,198.9 1263.5,198 1264.1,199.3 1264.6,197 1265.2,197.2 1265.8,197.6 1266.4,198.1 1267,197.9 1267.6,196 1268.2,196.1 1268.8,197.4 1269.4,196.3 1270,198.5 1270.6,198.7 1271.2,197.5 1271.7,197.7 1272.3,197.3 1272.9,196.6 1273.5,194.2 1274.1,196.8 1274.7,196 1275.3,195.4 1275.9,195.3 1276.5,194 1277.1,192.8 1277.7,194.4 1278.3,192.5 1278.8,191.9 1279.4,190.3 1280,190.5 1280.6,189.2 1281.2,187.9 1281.8,183.9 1282.4,182 1283,179.7 1283.6,179 1284.2,174.5 1284.8,171.6 1285.4,168.7 1286,164.5 1286.5,159.2 1287.1,155.1 1287.7,150.9 1288.3,145.7 1288.9,141.5 1289.5,135.8 1290.1,130.5 1290.7,124.7 1291.3,119.6 1291.9,114.2 1292.5,108.8 1293.1,103.9 1293.6,96.6 1294.2,93 1294.8,88.5 1295.4,82.9 1296,79.8 1296.6,78.8 1297.2,74.3 1297.8,72 1298.4,69.6 1299,69 1299.6,69.1 1300.2,70.9 1300.7,71.5 1301.3,72.2 1301.9,74.1 1302.5,78 1303.1,80.7 1303.7,84.3 1304.3,88.1 1304.9,92.3 1305.5,97.5 1306.1,103.2 1306.7,106.4 1307.3,111.4 1307.8,118 1308.4,122.4 1309,128.1 1309.6,133.1 1310.2,138.2 1310.8,143.9 1311.4,147.4 1312,151.4 1312.6,156.9 1313.2,158.4 1313.8,161.7 1314.4,165.1 1314.9,167.8 1315.5,171.2 1316.1,174.3 1316.7,176.4 1317.3,178.2 1317.9,178.8 1318.5,180 1319.1,180.3" stroke="#c00000" stroke-width="2.3" fill="none" stroke-linejoin="round"/>
<g font-size="20.8"><text x="781.7" y="241.6" text-anchor="middle">12</text><text x="835.5" y="241.6" text-anchor="middle">14</text><text x="889.3" y="241.6" text-anchor="middle">16</text><text x="943.1" y="241.6" text-anchor="middle">18</text><text x="996.9" y="241.6" text-anchor="middle">20</text><text x="1050.7" y="241.6" text-anchor="middle">22</text><text x="1104.5" y="241.6" text-anchor="middle">24</text><text x="1158.3" y="241.6" text-anchor="middle">26</text><text x="1212.1" y="241.6" text-anchor="middle">28</text><text x="1265.9" y="241.6" text-anchor="middle">30</text><text x="1319.7" y="241.6" text-anchor="middle">32</text><text x="763.9" y="205.8" text-anchor="end">0</text><text x="763.9" y="129.2" text-anchor="end">0.6</text><text x="763.9" y="52.7" text-anchor="end">1.2</text></g>
<text transform="translate(1046.3 276.5) scale(1 1.035)" font-size="25.1" text-anchor="middle">Time (ps)</text>
<text transform="translate(715.8 129.5) rotate(-90) scale(1 1.035)" font-size="25.1" text-anchor="middle">Power (a.u.)</text>
<text transform="translate(1046.6 29.4) scale(0.97 1)" font-size="30.5" text-anchor="middle">NOT (Data <tspan font-style="italic">A</tspan>)</text>
<rect x="1250.1" y="32.4" width="85.6" height="127.1" fill="#fff"/>
<g fill="none" stroke-linejoin="round" stroke-linecap="round" clip-path="url(#e1250_32)">
<clipPath id="e1250_32"><rect x="1250.1" y="32.4" width="85.6" height="127.1"/></clipPath>
<path d="M1250.1 149.3H1335.7" stroke="#30d0ff" stroke-width="11" opacity="0.6"/>
<path d="M1250.1,146.1 L1251.1,145.5 L1252,144.9 L1253,144.2 L1253.9,143.4 L1254.9,142.5 L1255.8,141.5 L1256.8,140.4 L1257.7,139.2 L1258.7,137.8 L1259.6,136.3 L1260.6,134.6 L1261.5,132.8 L1262.5,130.8 L1263.4,128.7 L1264.4,126.4 L1265.3,123.9 L1266.3,121.2 L1267.2,118.4 L1268.2,115.4 L1269.1,112.3 L1270.1,109 L1271,105.5 L1272,102 L1272.9,98.3 L1273.9,94.5 L1274.8,90.7 L1275.8,86.8 L1276.7,82.8 L1277.7,78.9 L1278.6,75 L1279.6,71.2 L1280.5,67.4 L1281.5,63.8 L1282.4,60.3 L1283.4,57 L1284.3,53.9 L1285.3,51 L1286.2,48.4 L1287.2,46.1 L1288.1,44.1 L1289.1,42.4 L1290,41.1 L1291,40.2 L1291.9,39.6 L1292.9,39.4 L1293.9,39.6 L1294.8,40.2 L1295.8,41.1 L1296.7,42.4 L1297.7,44.1 L1298.6,46.1 L1299.6,48.4 L1300.5,51 L1301.5,53.9 L1302.4,57 L1303.4,60.3 L1304.3,63.8 L1305.3,67.4 L1306.2,71.2 L1307.2,75 L1308.1,78.9 L1309.1,82.8 L1310,86.8 L1311,90.7 L1311.9,94.5 L1312.9,98.3 L1313.8,102 L1314.8,105.5 L1315.7,109 L1316.7,112.3 L1317.6,115.4 L1318.6,118.4 L1319.5,121.2 L1320.5,123.9 L1321.4,126.4 L1322.4,128.7 L1323.3,130.8 L1324.3,132.8 L1325.2,134.6 L1326.2,136.3 L1327.1,137.8 L1328.1,139.2 L1329,140.4 L1330,141.5 L1330.9,142.5 L1331.9,143.4 L1332.8,144.2 L1333.8,144.9 L1334.7,145.5 L1335.7,146.1 M1250.1,134.7 L1251.1,135 L1252,135.1 L1253,135 L1253.9,134.8 L1254.9,134.5 L1255.8,134 L1256.8,133.3 L1257.7,132.5 L1258.7,131.5 L1259.6,130.3 L1260.6,129 L1261.5,127.4 L1262.5,125.7 L1263.4,123.9 L1264.4,121.8 L1265.3,119.6 L1266.3,117.1 L1267.2,114.5 L1268.2,111.8 L1269.1,108.8 L1270.1,105.7 L1271,102.4 L1272,99 L1272.9,95.5 L1273.9,91.9 L1274.8,88.1 L1275.8,84.4 L1276.7,80.6 M1309.1,80.6 L1310,84.4 L1311,88.1 L1311.9,91.9 L1312.9,95.5 L1313.8,99 L1314.8,102.4 L1315.7,105.7 L1316.7,108.8 L1317.6,111.8 L1318.6,114.5 L1319.5,117.1 L1320.5,119.6 L1321.4,121.8 L1322.4,123.9 L1323.3,125.7 L1324.3,127.4 L1325.2,129 L1326.2,130.3 L1327.1,131.5 L1328.1,132.5 L1329,133.3 L1330,134 L1330.9,134.5 L1331.9,134.8 L1332.8,135 L1333.8,135.1 L1334.7,135 L1335.7,134.7 M1250.1,139.7 L1251.1,140 L1252,140.1 L1253,140.1 L1253.9,139.8 L1254.9,139.5 L1255.8,138.9 L1256.8,138.1 L1257.7,137.2 L1258.7,136.1 L1259.6,134.8 L1260.6,133.4 L1261.5,131.7 L1262.5,129.9 L1263.4,127.8 L1264.4,125.6 L1265.3,123.2 L1266.3,120.6 L1267.2,117.8 L1268.2,114.8 L1269.1,111.7 L1270.1,108.4 L1271,105 L1272,101.4 L1272.9,97.7 L1273.9,93.9 L1274.8,90 L1275.8,86.1 L1276.7,82.1 M1309.1,82.1 L1310,86.1 L1311,90 L1311.9,93.9 L1312.9,97.7 L1313.8,101.4 L1314.8,105 L1315.7,108.4 L1316.7,111.7 L1317.6,114.8 L1318.6,117.8 L1319.5,120.6 L1320.5,123.2 L1321.4,125.6 L1322.4,127.8 L1323.3,129.9 L1324.3,131.7 L1325.2,133.4 L1326.2,134.8 L1327.1,136.1 L1328.1,137.2 L1329,138.1 L1330,138.9 L1330.9,139.5 L1331.9,139.8 L1332.8,140.1 L1333.8,140.1 L1334.7,140 L1335.7,139.7" stroke="#20c0ff" stroke-width="4.4" opacity="0.6"/>
<path d="M1250.1 149.3H1335.7" stroke="#0028e8" stroke-width="8"/>
<path d="M1250.1,146.1 L1251.1,145.5 L1252,144.9 L1253,144.2 L1253.9,143.4 L1254.9,142.5 L1255.8,141.5 L1256.8,140.4 L1257.7,139.2 L1258.7,137.8 L1259.6,136.3 L1260.6,134.6 L1261.5,132.8 L1262.5,130.8 L1263.4,128.7 L1264.4,126.4 L1265.3,123.9 L1266.3,121.2 L1267.2,118.4 L1268.2,115.4 L1269.1,112.3 L1270.1,109 L1271,105.5 L1272,102 L1272.9,98.3 L1273.9,94.5 L1274.8,90.7 L1275.8,86.8 L1276.7,82.8 L1277.7,78.9 L1278.6,75 L1279.6,71.2 L1280.5,67.4 L1281.5,63.8 L1282.4,60.3 L1283.4,57 L1284.3,53.9 L1285.3,51 L1286.2,48.4 L1287.2,46.1 L1288.1,44.1 L1289.1,42.4 L1290,41.1 L1291,40.2 L1291.9,39.6 L1292.9,39.4 L1293.9,39.6 L1294.8,40.2 L1295.8,41.1 L1296.7,42.4 L1297.7,44.1 L1298.6,46.1 L1299.6,48.4 L1300.5,51 L1301.5,53.9 L1302.4,57 L1303.4,60.3 L1304.3,63.8 L1305.3,67.4 L1306.2,71.2 L1307.2,75 L1308.1,78.9 L1309.1,82.8 L1310,86.8 L1311,90.7 L1311.9,94.5 L1312.9,98.3 L1313.8,102 L1314.8,105.5 L1315.7,109 L1316.7,112.3 L1317.6,115.4 L1318.6,118.4 L1319.5,121.2 L1320.5,123.9 L1321.4,126.4 L1322.4,128.7 L1323.3,130.8 L1324.3,132.8 L1325.2,134.6 L1326.2,136.3 L1327.1,137.8 L1328.1,139.2 L1329,140.4 L1330,141.5 L1330.9,142.5 L1331.9,143.4 L1332.8,144.2 L1333.8,144.9 L1334.7,145.5 L1335.7,146.1 M1250.1,134.7 L1251.1,135 L1252,135.1 L1253,135 L1253.9,134.8 L1254.9,134.5 L1255.8,134 L1256.8,133.3 L1257.7,132.5 L1258.7,131.5 L1259.6,130.3 L1260.6,129 L1261.5,127.4 L1262.5,125.7 L1263.4,123.9 L1264.4,121.8 L1265.3,119.6 L1266.3,117.1 L1267.2,114.5 L1268.2,111.8 L1269.1,108.8 L1270.1,105.7 L1271,102.4 L1272,99 L1272.9,95.5 L1273.9,91.9 L1274.8,88.1 L1275.8,84.4 L1276.7,80.6 M1309.1,80.6 L1310,84.4 L1311,88.1 L1311.9,91.9 L1312.9,95.5 L1313.8,99 L1314.8,102.4 L1315.7,105.7 L1316.7,108.8 L1317.6,111.8 L1318.6,114.5 L1319.5,117.1 L1320.5,119.6 L1321.4,121.8 L1322.4,123.9 L1323.3,125.7 L1324.3,127.4 L1325.2,129 L1326.2,130.3 L1327.1,131.5 L1328.1,132.5 L1329,133.3 L1330,134 L1330.9,134.5 L1331.9,134.8 L1332.8,135 L1333.8,135.1 L1334.7,135 L1335.7,134.7 M1250.1,139.7 L1251.1,140 L1252,140.1 L1253,140.1 L1253.9,139.8 L1254.9,139.5 L1255.8,138.9 L1256.8,138.1 L1257.7,137.2 L1258.7,136.1 L1259.6,134.8 L1260.6,133.4 L1261.5,131.7 L1262.5,129.9 L1263.4,127.8 L1264.4,125.6 L1265.3,123.2 L1266.3,120.6 L1267.2,117.8 L1268.2,114.8 L1269.1,111.7 L1270.1,108.4 L1271,105 L1272,101.4 L1272.9,97.7 L1273.9,93.9 L1274.8,90 L1275.8,86.1 L1276.7,82.1 M1309.1,82.1 L1310,86.1 L1311,90 L1311.9,93.9 L1312.9,97.7 L1313.8,101.4 L1314.8,105 L1315.7,108.4 L1316.7,111.7 L1317.6,114.8 L1318.6,117.8 L1319.5,120.6 L1320.5,123.2 L1321.4,125.6 L1322.4,127.8 L1323.3,129.9 L1324.3,131.7 L1325.2,133.4 L1326.2,134.8 L1327.1,136.1 L1328.1,137.2 L1329,138.1 L1330,138.9 L1330.9,139.5 L1331.9,139.8 L1332.8,140.1 L1333.8,140.1 L1334.7,140 L1335.7,139.7" stroke="#0018e0" stroke-width="2.1"/>
<path d="M1250.1 149.3H1335.7" stroke="#0000b8" stroke-width="5"/>
<path d="M1250.1 149.3H1335.7" stroke="#000090" stroke-width="3"/>
<path d="M1285.3,51.2 L1286.2,48.6 L1287.2,46.3 L1288.1,44.3 L1289.1,42.6 L1290,41.3 L1291,40.4 L1291.9,39.8 L1292.9,39.6 L1293.9,39.8 L1294.8,40.4 L1295.8,41.3 L1296.7,42.6 L1297.7,44.3 L1298.6,46.3 L1299.6,48.6 L1300.5,51.2" stroke="#0008b0" stroke-width="2.6"/>
<path d="M1289.1,42.6 L1290,41.3 L1291,40.4 L1291.9,39.8 L1292.9,39.6 L1293.9,39.8 L1294.8,40.4 L1295.8,41.3 L1296.7,42.6" stroke="#000090" stroke-width="3.2"/>
</g>
<rect x="1250.1" y="32.4" width="85.6" height="127.1" fill="none" stroke="#404040" stroke-width="1.7"/>
<path d="M97.3 349.5V525.3M151.2 349.5V525.3M205 349.5V525.3M258.8 349.5V525.3M312.6 349.5V525.3M366.4 349.5V525.3M420.2 349.5V525.3M474.1 349.5V525.3M527.9 349.5V525.3M581.7 349.5V525.3M89 505.5H635.5M89 480H635.5M89 454.5H635.5M89 428.9H635.5M89 403.4H635.5M89 377.9H635.5" stroke="#d6d6d6" stroke-width="1" stroke-dasharray="4 2.3" fill="none"/>
<path d="M97.3 525.3v-6M97.3 349.5v6M151.2 525.3v-6M151.2 349.5v6M205 525.3v-6M205 349.5v6M258.8 525.3v-6M258.8 349.5v6M312.6 525.3v-6M312.6 349.5v6M366.4 525.3v-6M366.4 349.5v6M420.2 525.3v-6M420.2 349.5v6M474.1 525.3v-6M474.1 349.5v6M527.9 525.3v-6M527.9 349.5v6M581.7 525.3v-6M581.7 349.5v6M635.5 525.3v-6M635.5 349.5v6M89 505.5h6M635.5 505.5h-6M89 480h6M635.5 480h-6M89 454.5h6M635.5 454.5h-6M89 428.9h6M635.5 428.9h-6M89 403.4h6M635.5 403.4h-6M89 377.9h6M635.5 377.9h-6M89 352.4h6M635.5 352.4h-6" stroke="#000" stroke-width="1.8" fill="none"/>
<rect x="89" y="349.5" width="546.5" height="175.8" stroke="#000" stroke-width="1.8" fill="none"/>
<clipPath id="c3"><rect x="89" y="349.5" width="546.5" height="175.8"/></clipPath>
<polyline clip-path="url(#c3)" points="89,491 89.6,487.8 90.2,487.6 90.8,488.9 91.4,487.6 92,486.8 92.6,485.6 93.1,484.5 93.7,482.5 94.3,480.9 94.9,477.7 95.5,475.1 96.1,471.8 96.7,469.3 97.3,464.9 97.9,460.9 98.5,456.2 99.1,452.9 99.7,447 100.2,441.6 100.8,436.8 101.4,432.2 102,426.9 102.6,421.3 103.2,415.2 103.8,409.3 104.4,405.5 105,401 105.6,395.6 106.2,391.4 106.8,388.4 107.4,384.8 107.9,381.4 108.5,378.5 109.1,378.1 109.7,376.8 110.3,375.2 110.9,376.6 111.5,376.4 112.1,377.6 112.7,380 113.3,383.3 113.9,385.7 114.5,389.5 115,393.1 115.6,398.6 116.2,401.9 116.8,409.2 117.4,413.3 118,418.7 118.6,423.5 119.2,430.3 119.8,435 120.4,441.3 121,445.6 121.6,450 122.2,456.7 122.7,460.8 123.3,466.3 123.9,469 124.5,472.8 125.1,477.3 125.7,481.6 126.3,483.5 126.9,485.7 127.5,488.2 128.1,490.7 128.7,494.7 129.3,495.6 129.8,495.5 130.4,498.9 131,498.3 131.6,498.8 132.2,500.5 132.8,501 133.4,502.7 134,504 134.6,503.5 135.2,504 135.8,504.2 136.4,503.9 136.9,504.8 137.5,504.7 138.1,504.6 138.7,505.1 139.3,503.8 139.9,504.9 140.5,505.2 141.1,505.5 141.7,505.9 142.3,504.4 142.9,505.3 143.5,506.3 144.1,505.9 144.6,505.6 145.2,505.8 145.8,504.7 146.4,506.4 147,505.1 147.6,505.4 148.2,506.4 148.8,505.5 149.4,505.6 150,505.1 150.6,505.8 151.2,505.3 151.7,506.8 152.3,506.3 152.9,504.9 153.5,504.7 154.1,505.5 154.7,506 155.3,504.7 155.9,507.1 156.5,506.1 157.1,505 157.7,505 158.3,506.3 158.9,506.9 159.4,504.4 160,505.4 160.6,506.2 161.2,505.4 161.8,504.8 162.4,507.4 163,504.6 163.6,504.8 164.2,506.9 164.8,504.7 165.4,506.6 166,504.3 166.5,504.8 167.1,503.2 167.7,505.3 168.3,504.6 168.9,503.6 169.5,504.7 170.1,504.4 170.7,503.8 171.3,503.1 171.9,503.3 172.5,501.5 173.1,500.7 173.7,500.2 174.2,497.9 174.8,498.3 175.4,495.7 176,495.6 176.6,492.8 177.2,492.9 177.8,489 178.4,486.8 179,484.3 179.6,481.4 180.2,477.9 180.8,474.5 181.3,471.8 181.9,466.4 182.5,461.9 183.1,457.2 183.7,452.7 184.3,446.8 184.9,440.8 185.5,436.2 186.1,430.9 186.7,423.9 187.3,418.7 187.9,413.3 188.5,407.9 189,403.9 189.6,399 190.2,393.5 190.8,390.7 191.4,386.8 192,383.3 192.6,380.7 193.2,379.2 193.8,376.8 194.4,377 195,376.1 195.6,376.4 196.1,377.8 196.7,379.5 197.3,383.3 197.9,386.3 198.5,389.2 199.1,392.2 199.7,395.7 200.3,402.3 200.9,406 201.5,412 202.1,417.1 202.7,422.1 203.3,426.7 203.8,432.4 204.4,436.9 205,443.7 205.6,447.2 206.2,451.9 206.8,457 207.4,460.9 208,465.7 208.6,469.7 209.2,472.6 209.8,475.8 210.4,475.8 210.9,480.8 211.5,481.3 212.1,484.3 212.7,485.7 213.3,486.6 213.9,488.8 214.5,488.2 215.1,489 215.7,490.7 216.3,489 216.9,488.7 217.5,488.1 218.1,486.4 218.6,486.8 219.2,484.6 219.8,482.7 220.4,482 221,478.1 221.6,477.5 222.2,474.4 222.8,469.8 223.4,467.5 224,462.9 224.6,460 225.2,454.2 225.7,450.5 226.3,444.5 226.9,440.9 227.5,434.2 228.1,429.4 228.7,423.8 229.3,418.5 229.9,413.1 230.5,409.1 231.1,405 231.7,398.3 232.3,394.7 232.8,390.3 233.4,386 234,384.7 234.6,381.2 235.2,379.1 235.8,378 236.4,376.2 237,376.4 237.6,377.4 238.2,378.7 238.8,379.1 239.4,382.6 240,384.5 240.5,388.1 241.1,393.8 241.7,397.5 242.3,401.4 242.9,406.1 243.5,411 244.1,416.3 244.7,421.7 245.3,428.3 245.9,433.7 246.5,438.4 247.1,444.7 247.6,448.8 248.2,455.9 248.8,459 249.4,464.2 250,469.8 250.6,471.6 251.2,475.8 251.8,479.5 252.4,483.5 253,485.9 253.6,487 254.2,491.1 254.8,495.2 255.3,495.1 255.9,497 256.5,497.6 257.1,499 257.7,500.5 258.3,501.4 258.9,500.8 259.5,503.4 260.1,501.3 260.7,503.7 261.3,504.6 261.9,503.5 262.4,503.9 263,505.4 263.6,504.2 264.2,506.3 264.8,505.7 265.4,504.3 266,505.4 266.6,506.3 267.2,504.9 267.8,504.7 268.4,505.4 269,506.8 269.6,505.7 270.1,505.1 270.7,504.9 271.3,504.1 271.9,505.7 272.5,505.9 273.1,505.5 273.7,504.6 274.3,506.2 274.9,504.5 275.5,507.6 276.1,504.9 276.7,506 277.2,505.1 277.8,505 278.4,506.4 279,505.6 279.6,505.3 280.2,505 280.8,506.2 281.4,506.3 282,507 282.6,503.6 283.2,505.6 283.8,505.7 284.4,506.6 284.9,504.8 285.5,505.9 286.1,504.4 286.7,504.8 287.3,505.4 287.9,504.9 288.5,506.3 289.1,505.7 289.7,505.8 290.3,506.3 290.9,505.3 291.5,505.4 292,504.1 292.6,507.7 293.2,505.5 293.8,505.6 294.4,505.1 295,504.2 295.6,504 296.2,504 296.8,504 297.4,502.8 298,502.4 298.6,503.5 299.2,501.6 299.7,501.7 300.3,500.6 300.9,498.4 301.5,497.2 302.1,495.7 302.7,494.8 303.3,492.4 303.9,490.8 304.5,487.4 305.1,484.5 305.7,480.8 306.3,477.9 306.8,476 307.4,472 308,468.3 308.6,463 309.2,457.1 309.8,453.2 310.4,450.4 311,444.4 311.6,439 312.2,432.2 312.8,427 313.4,421.2 314,414.6 314.5,411.3 315.1,406.1 315.7,399 316.3,395.6 316.9,392.3 317.5,389.4 318.1,385.7 318.7,383.6 319.3,379.4 319.9,377.8 320.5,376.1 321.1,376.6 321.6,377.3 322.2,378.3 322.8,377.8 323.4,382.8 324,384.1 324.6,387.5 325.2,390.8 325.8,395.8 326.4,399.7 327,404.4 327.6,410.3 328.2,415.8 328.7,421.1 329.3,427.2 329.9,432.2 330.5,437.8 331.1,442.8 331.7,447.2 332.3,452.3 332.9,458.5 333.5,462.3 334.1,467 334.7,470.7 335.3,475.1 335.9,478.4 336.4,482.2 337,485.4 337.6,486.8 338.2,488.9 338.8,491.5 339.4,493.6 340,495.4 340.6,497.5 341.2,499.8 341.8,499 342.4,500.4 343,501.8 343.5,502.8 344.1,501.7 344.7,504.6 345.3,502.3 345.9,503.5 346.5,502.4 347.1,505.1 347.7,504.7 348.3,505.3 348.9,504.9 349.5,505.3 350.1,505.8 350.7,504.4 351.2,505.9 351.8,505.7 352.4,505 353,505.8 353.6,505.8 354.2,505.2 354.8,505.7 355.4,506.4 356,505.6 356.6,505.7 357.2,504.2 357.8,506.3 358.3,504.8 358.9,506.1 359.5,505.8 360.1,505.7 360.7,505.3 361.3,504.8 361.9,504.2 362.5,506 363.1,504.5 363.7,504.7 364.3,504.9 364.9,506.1 365.5,504.8 366,505.6 366.6,505.2 367.2,505.7 367.8,505 368.4,504.6 369,504.6 369.6,505.6 370.2,504.7 370.8,504.4 371.4,506.2 372,504.3 372.6,506.5 373.1,505 373.7,504.9 374.3,504.2 374.9,505.1 375.5,505.6 376.1,505.8 376.7,506.1 377.3,504.5 377.9,505.1 378.5,505.3 379.1,504.2 379.7,504.9 380.3,504.4 380.8,504.1 381.4,502.1 382,501.7 382.6,502.4 383.2,502.8 383.8,500.6 384.4,499.8 385,498.5 385.6,497.1 386.2,496.4 386.8,493.8 387.4,492 387.9,490.4 388.5,488.6 389.1,486.1 389.7,482.3 390.3,480.5 390.9,476.4 391.5,473.1 392.1,469.5 392.7,463.7 393.3,459.6 393.9,454.8 394.5,449.1 395.1,445.7 395.6,439.2 396.2,433.4 396.8,427.4 397.4,423.3 398,416.4 398.6,411.3 399.2,405.2 399.8,400.3 400.4,396 401,390.4 401.6,388.1 402.2,384.9 402.7,381.8 403.3,379.9 403.9,377.4 404.5,377.6 405.1,375.6 405.7,375.3 406.3,375.6 406.9,378 407.5,378.6 408.1,382.7 408.7,385.4 409.3,390.3 409.9,393.5 410.4,397.9 411,400.9 411.6,406.6 412.2,413 412.8,417.1 413.4,422.5 414,428.4 414.6,433.6 415.2,439.1 415.8,444.4 416.4,450.2 417,453.6 417.5,457.1 418.1,461.1 418.7,466.3 419.3,470.3 419.9,473.1 420.5,475.3 421.1,478.4 421.7,481.4 422.3,482.8 422.9,484.9 423.5,485.9 424.1,487.7 424.6,489.4 425.2,488.9 425.8,488.8 426.4,490.3 427,489.4 427.6,488.2 428.2,488.5 428.8,487.7 429.4,484.5 430,483.9 430.6,481.9 431.2,481.3 431.8,476.9 432.3,476.7 432.9,472.8 433.5,468.5 434.1,464.5 434.7,462.2 435.3,457.8 435.9,452.7 436.5,449.5 437.1,442.7 437.7,437.6 438.3,433.1 438.9,427.1 439.4,421.5 440,416.5 440.6,411.1 441.2,405.3 441.8,401.9 442.4,396.7 443,392.9 443.6,387.9 444.2,385.5 444.8,381.9 445.4,379.7 446,377.9 446.6,375.5 447.1,376.2 447.7,375.1 448.3,376.2 448.9,377.1 449.5,380.1 450.1,381.8 450.7,384.9 451.3,389.4 451.9,392.7 452.5,397.4 453.1,402 453.7,405.9 454.2,412.5 454.8,418.5 455.4,423.9 456,428.3 456.6,433.8 457.2,438.5 457.8,443.2 458.4,447.3 459,453 459.6,457.4 460.2,462.5 460.8,465.4 461.4,468.4 461.9,471.8 462.5,477.2 463.1,477.8 463.7,479.6 464.3,482.3 464.9,485.8 465.5,486.4 466.1,487 466.7,488 467.3,489.6 467.9,490.1 468.5,488.8 469,490.4 469.6,488 470.2,488.4 470.8,487.3 471.4,487.3 472,485.3 472.6,482.6 473.2,482.1 473.8,477.1 474.4,477.1 475,474 475.6,469.7 476.2,465.9 476.7,461.8 477.3,458.5 477.9,453.9 478.5,449.3 479.1,444.6 479.7,441.1 480.3,433.3 480.9,428.5 481.5,423.2 482.1,418.5 482.7,412.6 483.3,407.7 483.8,402.9 484.4,397.3 485,395.1 485.6,389.7 486.2,387.2 486.8,383.6 487.4,379.9 488,379.9 488.6,377.9 489.2,377.6 489.8,376.4 490.4,378.5 491,380.2 491.5,380.5 492.1,383.6 492.7,386.5 493.3,389 493.9,394.4 494.5,398.4 495.1,402.7 495.7,407.6 496.3,413.5 496.9,417.7 497.5,422.3 498.1,429.8 498.6,433.6 499.2,441.9 499.8,444.7 500.4,451.1 501,455.7 501.6,460.8 502.2,465.5 502.8,470.2 503.4,473.5 504,475.9 504.6,479.4 505.2,483.6 505.7,486.5 506.3,489.2 506.9,491.9 507.5,491.7 508.1,494.3 508.7,496.3 509.3,498.1 509.9,499.7 510.5,499.1 511.1,500.4 511.7,502.4 512.3,501.6 512.9,503.7 513.4,502.9 514,504.5 514.6,504.4 515.2,504 515.8,504.3 516.4,504 517,505.5 517.6,503.9 518.2,504.2 518.8,505.2 519.4,504.9 520,505.9 520.5,505.5 521.1,506.4 521.7,505.4 522.3,505.3 522.9,504.5 523.5,504.8 524.1,504.9 524.7,505.7 525.3,505.7 525.9,505.7 526.5,505.3 527.1,506.9 527.7,504.9 528.2,506.6 528.8,505.9 529.4,505.5 530,505.9 530.6,504.3 531.2,505.6 531.8,504.3 532.4,504.6 533,505.9 533.6,505.2 534.2,504.5 534.8,505.7 535.3,505.4 535.9,505.9 536.5,505.5 537.1,505.8 537.7,505.4 538.3,504.7 538.9,504.5 539.5,505.4 540.1,505.3 540.7,504.8 541.3,505.6 541.9,506.2 542.5,504.6 543,506 543.6,504.6 544.2,506 544.8,503.8 545.4,505.9 546,504.4 546.6,503.8 547.2,505.4 547.8,503.4 548.4,504.9 549,505.3 549.6,503.1 550.1,502.7 550.7,502.8 551.3,503.9 551.9,501.4 552.5,500.7 553.1,499.8 553.7,498.6 554.3,498.4 554.9,496 555.5,492.6 556.1,490.9 556.7,490.1 557.3,488 557.8,484.5 558.4,481 559,478.1 559.6,475.9 560.2,471.2 560.8,467.1 561.4,461.8 562,457.4 562.6,453 563.2,447.5 563.8,443.4 564.4,436.7 564.9,432.7 565.5,426.6 566.1,420.7 566.7,416.7 567.3,411.2 567.9,406.9 568.5,400.7 569.1,396.3 569.7,392.4 570.3,388.1 570.9,386.8 571.5,382.6 572.1,380.4 572.6,379.2 573.2,377.6 573.8,376.6 574.4,378.6 575,380 575.6,381.5 576.2,383.2 576.8,385.7 577.4,390.1 578,392.5 578.6,398.2 579.2,401.5 579.7,406.7 580.3,411.8 580.9,415.9 581.5,423.1 582.1,428.5 582.7,433.5 583.3,438.6 583.9,445.6 584.5,449.6 585.1,455.3 585.7,459.1 586.3,463.1 586.9,468.3 587.4,472.4 588,475.9 588.6,481.7 589.2,482.1 589.8,485.1 590.4,488 591,490.7 591.6,493.1 592.2,494.5 592.8,495.1 593.4,497.5 594,497.7 594.5,501.7 595.1,501.1 595.7,501.3 596.3,502.2 596.9,504 597.5,503.8 598.1,502.8 598.7,505 599.3,505.1 599.9,505.4 600.5,505.2 601.1,504.4 601.6,504.6 602.2,506.6 602.8,504.1 603.4,505.7 604,505.8 604.6,504.1 605.2,505.5 605.8,506.3 606.4,505.9 607,506 607.6,506.2 608.2,505.7 608.8,504.8 609.3,505.2 609.9,506.5 610.5,503.4 611.1,506.2 611.7,505.4 612.3,505.5 612.9,504.9 613.5,505.7 614.1,505.2 614.7,504 615.3,505.4 615.9,506.3 616.4,505.3 617,506.1 617.6,505.8 618.2,505.4 618.8,505.3 619.4,505.7 620,504.9 620.6,505.6 621.2,506.5 621.8,504.9 622.4,505.8 623,504.6 623.6,506 624.1,505.1 624.7,505.3 625.3,507.5 625.9,506.6 626.5,506.3 627.1,504.5 627.7,506.9 628.3,504.8 628.9,504.7 629.5,505.1 630.1,505 630.7,505.9 631.2,505.5 631.8,505.3 632.4,505.2 633,505 633.6,505.7 634.2,506 634.8,505.9 635.4,505.2" stroke="#0070c0" stroke-width="2.3" fill="none" stroke-linejoin="round"/>
<g font-size="20.8"><text x="97.8" y="549.6" text-anchor="middle">12</text><text x="151.7" y="549.6" text-anchor="middle">14</text><text x="205.5" y="549.6" text-anchor="middle">16</text><text x="259.3" y="549.6" text-anchor="middle">18</text><text x="313.1" y="549.6" text-anchor="middle">20</text><text x="366.9" y="549.6" text-anchor="middle">22</text><text x="420.7" y="549.6" text-anchor="middle">24</text><text x="474.6" y="549.6" text-anchor="middle">26</text><text x="528.4" y="549.6" text-anchor="middle">28</text><text x="582.2" y="549.6" text-anchor="middle">30</text><text x="636" y="549.6" text-anchor="middle">32</text><text x="80" y="513.8" text-anchor="end">0</text><text x="80" y="437.2" text-anchor="end">0.6</text><text x="80" y="360.7" text-anchor="end">1.2</text></g>
<text transform="translate(362.6 584.5) scale(1 1.035)" font-size="25.1" text-anchor="middle">Time (ps)</text>
<text transform="translate(31.9 437.4) rotate(-90) scale(1 1.035)" font-size="25.1" text-anchor="middle">Power (a.u.)</text>
<text transform="translate(368.8 342.9) scale(0.97 1)" font-size="30.5" text-anchor="middle">Data <tspan font-style="italic">A</tspan></text>
<rect x="565.4" y="340.2" width="85.6" height="127.1" fill="#fff"/>
<g fill="none" stroke-linejoin="round" stroke-linecap="round" clip-path="url(#e565_340)">
<clipPath id="e565_340"><rect x="565.4" y="340.2" width="85.6" height="127.1"/></clipPath>
<path d="M565.4 457.1H651" stroke="#30d0ff" stroke-width="11" opacity="0.6"/>
<path d="M565.4,453.9 L566.4,453.3 L567.3,452.7 L568.3,452 L569.2,451.2 L570.2,450.3 L571.1,449.3 L572.1,448.2 L573,447 L574,445.6 L574.9,444.1 L575.9,442.4 L576.8,440.6 L577.8,438.6 L578.7,436.5 L579.7,434.2 L580.6,431.7 L581.6,429 L582.5,426.2 L583.5,423.2 L584.4,420.1 L585.4,416.8 L586.3,413.3 L587.3,409.8 L588.2,406.1 L589.2,402.3 L590.1,398.5 L591.1,394.6 L592,390.6 L593,386.7 L593.9,382.8 L594.9,379 L595.8,375.2 L596.8,371.6 L597.7,368.1 L598.7,364.8 L599.6,361.7 L600.6,358.8 L601.5,356.2 L602.5,353.9 L603.4,351.9 L604.4,350.2 L605.3,348.9 L606.3,348 L607.2,347.4 L608.2,347.2 L609.2,347.4 L610.1,348 L611.1,348.9 L612,350.2 L613,351.9 L613.9,353.9 L614.9,356.2 L615.8,358.8 L616.8,361.7 L617.7,364.8 L618.7,368.1 L619.6,371.6 L620.6,375.2 L621.5,379 L622.5,382.8 L623.4,386.7 L624.4,390.6 L625.3,394.6 L626.3,398.5 L627.2,402.3 L628.2,406.1 L629.1,409.8 L630.1,413.3 L631,416.8 L632,420.1 L632.9,423.2 L633.9,426.2 L634.8,429 L635.8,431.7 L636.7,434.2 L637.7,436.5 L638.6,438.6 L639.6,440.6 L640.5,442.4 L641.5,444.1 L642.4,445.6 L643.4,447 L644.3,448.2 L645.3,449.3 L646.2,450.3 L647.2,451.2 L648.1,452 L649.1,452.7 L650,453.3 L651,453.9 M565.4,442.5 L566.4,442.8 L567.3,442.9 L568.3,442.8 L569.2,442.6 L570.2,442.3 L571.1,441.8 L572.1,441.1 L573,440.3 L574,439.3 L574.9,438.1 L575.9,436.8 L576.8,435.2 L577.8,433.5 L578.7,431.7 L579.7,429.6 L580.6,427.4 L581.6,424.9 L582.5,422.3 L583.5,419.6 L584.4,416.6 L585.4,413.5 L586.3,410.2 L587.3,406.8 L588.2,403.3 L589.2,399.7 L590.1,395.9 L591.1,392.2 L592,388.4 M624.4,388.4 L625.3,392.2 L626.3,395.9 L627.2,399.7 L628.2,403.3 L629.1,406.8 L630.1,410.2 L631,413.5 L632,416.6 L632.9,419.6 L633.9,422.3 L634.8,424.9 L635.8,427.4 L636.7,429.6 L637.7,431.7 L638.6,433.5 L639.6,435.2 L640.5,436.8 L641.5,438.1 L642.4,439.3 L643.4,440.3 L644.3,441.1 L645.3,441.8 L646.2,442.3 L647.2,442.6 L648.1,442.8 L649.1,442.9 L650,442.8 L651,442.5 M565.4,447.5 L566.4,447.8 L567.3,447.9 L568.3,447.9 L569.2,447.6 L570.2,447.3 L571.1,446.7 L572.1,445.9 L573,445 L574,443.9 L574.9,442.6 L575.9,441.2 L576.8,439.5 L577.8,437.7 L578.7,435.6 L579.7,433.4 L580.6,431 L581.6,428.4 L582.5,425.6 L583.5,422.6 L584.4,419.5 L585.4,416.2 L586.3,412.8 L587.3,409.2 L588.2,405.5 L589.2,401.7 L590.1,397.8 L591.1,393.9 L592,389.9 M624.4,389.9 L625.3,393.9 L626.3,397.8 L627.2,401.7 L628.2,405.5 L629.1,409.2 L630.1,412.8 L631,416.2 L632,419.5 L632.9,422.6 L633.9,425.6 L634.8,428.4 L635.8,431 L636.7,433.4 L637.7,435.6 L638.6,437.7 L639.6,439.5 L640.5,441.2 L641.5,442.6 L642.4,443.9 L643.4,445 L644.3,445.9 L645.3,446.7 L646.2,447.3 L647.2,447.6 L648.1,447.9 L649.1,447.9 L650,447.8 L651,447.5" stroke="#20c0ff" stroke-width="4.4" opacity="0.6"/>
<path d="M565.4 457.1H651" stroke="#0028e8" stroke-width="8"/>
<path d="M565.4,453.9 L566.4,453.3 L567.3,452.7 L568.3,452 L569.2,451.2 L570.2,450.3 L571.1,449.3 L572.1,448.2 L573,447 L574,445.6 L574.9,444.1 L575.9,442.4 L576.8,440.6 L577.8,438.6 L578.7,436.5 L579.7,434.2 L580.6,431.7 L581.6,429 L582.5,426.2 L583.5,423.2 L584.4,420.1 L585.4,416.8 L586.3,413.3 L587.3,409.8 L588.2,406.1 L589.2,402.3 L590.1,398.5 L591.1,394.6 L592,390.6 L593,386.7 L593.9,382.8 L594.9,379 L595.8,375.2 L596.8,371.6 L597.7,368.1 L598.7,364.8 L599.6,361.7 L600.6,358.8 L601.5,356.2 L602.5,353.9 L603.4,351.9 L604.4,350.2 L605.3,348.9 L606.3,348 L607.2,347.4 L608.2,347.2 L609.2,347.4 L610.1,348 L611.1,348.9 L612,350.2 L613,351.9 L613.9,353.9 L614.9,356.2 L615.8,358.8 L616.8,361.7 L617.7,364.8 L618.7,368.1 L619.6,371.6 L620.6,375.2 L621.5,379 L622.5,382.8 L623.4,386.7 L624.4,390.6 L625.3,394.6 L626.3,398.5 L627.2,402.3 L628.2,406.1 L629.1,409.8 L630.1,413.3 L631,416.8 L632,420.1 L632.9,423.2 L633.9,426.2 L634.8,429 L635.8,431.7 L636.7,434.2 L637.7,436.5 L638.6,438.6 L639.6,440.6 L640.5,442.4 L641.5,444.1 L642.4,445.6 L643.4,447 L644.3,448.2 L645.3,449.3 L646.2,450.3 L647.2,451.2 L648.1,452 L649.1,452.7 L650,453.3 L651,453.9 M565.4,442.5 L566.4,442.8 L567.3,442.9 L568.3,442.8 L569.2,442.6 L570.2,442.3 L571.1,441.8 L572.1,441.1 L573,440.3 L574,439.3 L574.9,438.1 L575.9,436.8 L576.8,435.2 L577.8,433.5 L578.7,431.7 L579.7,429.6 L580.6,427.4 L581.6,424.9 L582.5,422.3 L583.5,419.6 L584.4,416.6 L585.4,413.5 L586.3,410.2 L587.3,406.8 L588.2,403.3 L589.2,399.7 L590.1,395.9 L591.1,392.2 L592,388.4 M624.4,388.4 L625.3,392.2 L626.3,395.9 L627.2,399.7 L628.2,403.3 L629.1,406.8 L630.1,410.2 L631,413.5 L632,416.6 L632.9,419.6 L633.9,422.3 L634.8,424.9 L635.8,427.4 L636.7,429.6 L637.7,431.7 L638.6,433.5 L639.6,435.2 L640.5,436.8 L641.5,438.1 L642.4,439.3 L643.4,440.3 L644.3,441.1 L645.3,441.8 L646.2,442.3 L647.2,442.6 L648.1,442.8 L649.1,442.9 L650,442.8 L651,442.5 M565.4,447.5 L566.4,447.8 L567.3,447.9 L568.3,447.9 L569.2,447.6 L570.2,447.3 L571.1,446.7 L572.1,445.9 L573,445 L574,443.9 L574.9,442.6 L575.9,441.2 L576.8,439.5 L577.8,437.7 L578.7,435.6 L579.7,433.4 L580.6,431 L581.6,428.4 L582.5,425.6 L583.5,422.6 L584.4,419.5 L585.4,416.2 L586.3,412.8 L587.3,409.2 L588.2,405.5 L589.2,401.7 L590.1,397.8 L591.1,393.9 L592,389.9 M624.4,389.9 L625.3,393.9 L626.3,397.8 L627.2,401.7 L628.2,405.5 L629.1,409.2 L630.1,412.8 L631,416.2 L632,419.5 L632.9,422.6 L633.9,425.6 L634.8,428.4 L635.8,431 L636.7,433.4 L637.7,435.6 L638.6,437.7 L639.6,439.5 L640.5,441.2 L641.5,442.6 L642.4,443.9 L643.4,445 L644.3,445.9 L645.3,446.7 L646.2,447.3 L647.2,447.6 L648.1,447.9 L649.1,447.9 L650,447.8 L651,447.5" stroke="#0018e0" stroke-width="2.1"/>
<path d="M565.4 457.1H651" stroke="#0000b8" stroke-width="5"/>
<path d="M565.4 457.1H651" stroke="#000090" stroke-width="3"/>
<path d="M600.6,359 L601.5,356.4 L602.5,354.1 L603.4,352.1 L604.4,350.4 L605.3,349.1 L606.3,348.2 L607.2,347.6 L608.2,347.4 L609.2,347.6 L610.1,348.2 L611.1,349.1 L612,350.4 L613,352.1 L613.9,354.1 L614.9,356.4 L615.8,359" stroke="#0008b0" stroke-width="2.6"/>
<path d="M604.4,350.4 L605.3,349.1 L606.3,348.2 L607.2,347.6 L608.2,347.4 L609.2,347.6 L610.1,348.2 L611.1,349.1 L612,350.4" stroke="#000090" stroke-width="3.2"/>
</g>
<rect x="565.4" y="340.2" width="85.6" height="127.1" fill="none" stroke="#404040" stroke-width="1.7"/>
<path d="M782.3 349.6V525.2M836.1 349.6V525.2M889.9 349.6V525.2M943.7 349.6V525.2M997.5 349.6V525.2M1051.3 349.6V525.2M1105.1 349.6V525.2M1158.8 349.6V525.2M1212.6 349.6V525.2M1266.4 349.6V525.2M774 505.4H1320.2M774 479.9H1320.2M774 454.4H1320.2M774 428.8H1320.2M774 403.3H1320.2M774 377.8H1320.2" stroke="#d6d6d6" stroke-width="1" stroke-dasharray="4 2.3" fill="none"/>
<path d="M782.3 525.2v-6M782.3 349.6v6M836.1 525.2v-6M836.1 349.6v6M889.9 525.2v-6M889.9 349.6v6M943.7 525.2v-6M943.7 349.6v6M997.5 525.2v-6M997.5 349.6v6M1051.3 525.2v-6M1051.3 349.6v6M1105.1 525.2v-6M1105.1 349.6v6M1158.8 525.2v-6M1158.8 349.6v6M1212.6 525.2v-6M1212.6 349.6v6M1266.4 525.2v-6M1266.4 349.6v6M1320.2 525.2v-6M1320.2 349.6v6M774 505.4h6M1320.2 505.4h-6M774 479.9h6M1320.2 479.9h-6M774 454.4h6M1320.2 454.4h-6M774 428.8h6M1320.2 428.8h-6M774 403.3h6M1320.2 403.3h-6M774 377.8h6M1320.2 377.8h-6M774 352.3h6M1320.2 352.3h-6" stroke="#000" stroke-width="1.8" fill="none"/>
<rect x="774" y="349.6" width="546.2" height="175.6" stroke="#000" stroke-width="1.8" fill="none"/>
<clipPath id="c4"><rect x="774" y="349.6" width="546.2" height="175.6"/></clipPath>
<polyline clip-path="url(#c4)" points="774,506.6 774.6,506.3 775.2,505.7 775.8,505.8 776.4,505.6 777,507.4 777.5,505.7 778.1,505.6 778.7,504.8 779.3,506.9 779.9,505.6 780.5,505.1 781.1,505 781.7,504.5 782.3,504.6 782.9,506.2 783.5,504.9 784.1,505.6 784.6,506 785.2,504.3 785.8,505.9 786.4,506 787,505.7 787.6,506 788.2,504.7 788.8,505.1 789.4,504.4 790,505.1 790.6,505.9 791.2,504.6 791.7,505.9 792.3,505.7 792.9,505.5 793.5,505.4 794.1,504.5 794.7,505.8 795.3,505.1 795.9,505.4 796.5,506.3 797.1,506.2 797.7,505.6 798.3,505.1 798.8,505.2 799.4,505 800,505.4 800.6,505.7 801.2,505.1 801.8,506.1 802.4,506.4 803,505.6 803.6,506.4 804.2,505.7 804.8,505.9 805.4,505.7 805.9,505.3 806.5,505.8 807.1,505.5 807.7,506.3 808.3,504.9 808.9,505.5 809.5,504.5 810.1,506.7 810.7,505 811.3,504 811.9,505.7 812.5,503.8 813,503 813.6,502.5 814.2,503 814.8,501.1 815.4,500.3 816,500.1 816.6,497.7 817.2,497 817.8,495.5 818.4,494.1 819,491.4 819.6,489.6 820.1,486.4 820.7,484.2 821.3,482.1 821.9,478.5 822.5,474.1 823.1,471.3 823.7,466.6 824.3,462.1 824.9,458 825.5,454.7 826.1,447.8 826.7,442.4 827.2,437.1 827.8,432.3 828.4,425.3 829,420.7 829.6,415.6 830.2,410.3 830.8,404.4 831.4,400.6 832,395.9 832.6,389.5 833.2,386.3 833.8,383.2 834.3,380.3 834.9,378.7 835.5,378.8 836.1,375.8 836.7,375.5 837.3,376.4 837.9,379.3 838.5,378.5 839.1,380.7 839.7,384.9 840.3,387.8 840.9,391.2 841.4,396.1 842,399.8 842.6,405.5 843.2,410.2 843.8,416.1 844.4,422.7 845,427.9 845.6,430.3 846.2,438 846.8,442.6 847.4,448 848,452.6 848.5,458.3 849.1,463.8 849.7,467.6 850.3,473.1 850.9,475.6 851.5,478.3 852.1,483.8 852.7,484.9 853.3,487.1 853.9,489.1 854.5,492.9 855.1,494.6 855.6,497.1 856.2,498 856.8,498.1 857.4,498.1 858,501.4 858.6,500.3 859.2,501.7 859.8,503 860.4,501.5 861,505.4 861.6,504 862.2,504 862.7,502.9 863.3,503.3 863.9,503.1 864.5,504.8 865.1,504.3 865.7,504.1 866.3,504.8 866.9,505 867.5,505.4 868.1,505.6 868.7,506.2 869.3,503.9 869.8,505.7 870.4,506.9 871,505.2 871.6,505.4 872.2,505.3 872.8,504 873.4,505.5 874,505.6 874.6,506 875.2,505.4 875.8,505.7 876.4,505.2 876.9,503.1 877.5,505.1 878.1,506 878.7,504 879.3,504.8 879.9,504.8 880.5,504.9 881.1,504.8 881.7,504.9 882.3,504.3 882.9,504.6 883.5,504.4 884,505.8 884.6,505.4 885.2,505.9 885.8,504.7 886.4,504.8 887,505.7 887.6,504.9 888.2,503.4 888.8,504.4 889.4,506.1 890,505.3 890.6,504.7 891.1,505.2 891.7,504.8 892.3,504.1 892.9,504.7 893.5,505.6 894.1,504.1 894.7,504.5 895.3,504.1 895.9,504.3 896.5,504.6 897.1,504.1 897.7,502.9 898.2,502.9 898.8,503.4 899.4,499.7 900,500.5 900.6,499.1 901.2,496.9 901.8,497.6 902.4,493.2 903,492.8 903.6,489.7 904.2,488.1 904.8,484.9 905.3,482.2 905.9,479 906.5,476.9 907.1,472.9 907.7,467.7 908.3,462.3 908.9,459.1 909.5,453.5 910.1,448.7 910.7,443.1 911.3,437.3 911.9,433.7 912.4,426.8 913,421.5 913.6,416 914.2,411 914.8,405.7 915.4,400.9 916,396.2 916.6,389.2 917.2,385.9 917.8,383.7 918.4,380.2 919,379.1 919.5,378.7 920.1,376.9 920.7,374.9 921.3,374.1 921.9,376.1 922.5,378.2 923.1,379.7 923.7,382.9 924.3,386.3 924.9,389.1 925.5,393.3 926.1,398.1 926.6,402.9 927.2,408 927.8,412.3 928.4,416.8 929,423.4 929.6,427 930.2,435.2 930.8,439.1 931.4,445.2 932,449.4 932.6,453.9 933.2,458 933.7,461.7 934.3,466.8 934.9,470.9 935.5,473.4 936.1,475.9 936.7,479.3 937.3,480.4 937.9,481.9 938.5,485.9 939.1,486 939.7,486.7 940.3,489.7 940.8,488.7 941.4,489.4 942,490.4 942.6,488.1 943.2,488.5 943.8,488.3 944.4,486.6 945,485.2 945.6,483.5 946.2,481.8 946.8,479.8 947.4,478.5 947.9,475.2 948.5,471.7 949.1,470.5 949.7,463.2 950.3,461.1 950.9,457.3 951.5,453.3 952.1,447 952.7,442.2 953.3,437.5 953.9,432.2 954.5,427.2 955,421.7 955.6,415.9 956.2,411 956.8,404.9 957.4,400.6 958,395.8 958.6,391.4 959.2,386.9 959.8,384 960.4,381.3 961,379.3 961.6,378 962.1,376.5 962.7,375.2 963.3,375.7 963.9,376.9 964.5,379 965.1,381.1 965.7,382.3 966.3,384.8 966.9,388.9 967.5,394.2 968.1,397.7 968.7,402.1 969.2,407.9 969.8,412.2 970.4,417.9 971,423.7 971.6,429.4 972.2,433.2 972.8,438.7 973.4,444.8 974,449.7 974.6,453 975.2,457.7 975.8,462.5 976.3,465 976.9,469.9 977.5,473.8 978.1,475.1 978.7,478.7 979.3,480.7 979.9,483 980.5,485.5 981.1,487.1 981.7,487.5 982.3,487.2 982.9,489.6 983.4,488.3 984,489.2 984.6,490 985.2,488.6 985.8,487.7 986.4,487.8 987,487.5 987.6,484.1 988.2,483.4 988.8,480.1 989.4,479.5 990,475.4 990.5,472.9 991.1,470 991.7,465.5 992.3,461.2 992.9,457.5 993.5,453.5 994.1,447.7 994.7,444.3 995.3,437.4 995.9,432.2 996.5,426 997.1,421.2 997.6,416.2 998.2,411 998.8,406.1 999.4,402.2 1000,395.5 1000.6,391.8 1001.2,388.5 1001.8,385.7 1002.4,380.8 1003,379.1 1003.6,378.5 1004.2,375.9 1004.7,374.4 1005.3,375.8 1005.9,376.2 1006.5,378.1 1007.1,380.1 1007.7,381.3 1008.3,382.8 1008.9,388.6 1009.5,392.7 1010.1,396.4 1010.7,401.9 1011.3,406 1011.8,411.1 1012.4,417.7 1013,423.1 1013.6,427.8 1014.2,432.4 1014.8,438.1 1015.4,442.5 1016,449.3 1016.6,452.7 1017.2,458 1017.8,461.6 1018.4,465.4 1018.9,469.9 1019.5,472.7 1020.1,476.4 1020.7,478 1021.3,481.2 1021.9,483 1022.5,484.3 1023.1,486.4 1023.7,486.3 1024.3,488.6 1024.9,488.1 1025.5,488.9 1026,490 1026.6,489.3 1027.2,489.3 1027.8,488.3 1028.4,487.3 1029,484.5 1029.6,484.7 1030.2,481.4 1030.8,480.1 1031.4,479 1032,477 1032.6,471.8 1033.1,470.4 1033.7,464.8 1034.3,460.6 1034.9,456.8 1035.5,452.7 1036.1,448 1036.7,442.6 1037.3,437.9 1037.9,432.7 1038.5,427.2 1039.1,420.6 1039.7,416.5 1040.2,410.4 1040.8,406.3 1041.4,401 1042,396.7 1042.6,391.4 1043.2,386.7 1043.8,383.4 1044.4,380.9 1045,377.6 1045.6,376.3 1046.2,374.5 1046.8,373.8 1047.3,373.6 1047.9,376.4 1048.5,376.7 1049.1,377 1049.7,380.1 1050.3,381.4 1050.9,386.7 1051.5,390.9 1052.1,393.7 1052.7,399.1 1053.3,403.1 1053.9,409.3 1054.4,415.2 1055,419.9 1055.6,426.5 1056.2,431.7 1056.8,437.1 1057.4,442 1058,446.3 1058.6,452.1 1059.2,456 1059.8,460.9 1060.4,463.9 1060.9,470.3 1061.5,471.9 1062.1,474.7 1062.7,478.4 1063.3,479.3 1063.9,482 1064.5,483.1 1065.1,484.9 1065.7,486.4 1066.3,488 1066.9,489.4 1067.5,489.2 1068,489.6 1068.6,489 1069.2,489.2 1069.8,486 1070.4,488.5 1071,485.3 1071.6,485.1 1072.2,483.2 1072.8,480.3 1073.4,478.7 1074,476.9 1074.6,472.8 1075.1,470 1075.7,467.8 1076.3,462.3 1076.9,459.1 1077.5,454.4 1078.1,448.8 1078.7,444.1 1079.3,439.4 1079.9,432.4 1080.5,428.4 1081.1,423.8 1081.7,417.8 1082.2,412.8 1082.8,409.1 1083.4,403.7 1084,398.8 1084.6,391.9 1085.2,389.5 1085.8,386 1086.4,383.1 1087,379.4 1087.6,378.2 1088.2,375.5 1088.8,375.5 1089.3,374.7 1089.9,376.6 1090.5,377.4 1091.1,379.8 1091.7,382 1092.3,386.1 1092.9,388.7 1093.5,392.9 1094.1,397 1094.7,400.4 1095.3,406.1 1095.9,410.6 1096.4,416.3 1097,421.8 1097.6,427.3 1098.2,434 1098.8,438.4 1099.4,444.7 1100,450 1100.6,453.8 1101.2,457.9 1101.8,464.8 1102.4,467.1 1103,471.7 1103.5,476.7 1104.1,479.3 1104.7,482.4 1105.3,485.3 1105.9,488.4 1106.5,491.4 1107.1,492.5 1107.7,493.8 1108.3,495.4 1108.9,497 1109.5,497.9 1110.1,500.5 1110.6,500.7 1111.2,501.2 1111.8,501.4 1112.4,502.6 1113,502.8 1113.6,503.5 1114.2,502.4 1114.8,505.9 1115.4,504.5 1116,502.8 1116.6,504.6 1117.2,506.3 1117.7,504.9 1118.3,506.2 1118.9,505.7 1119.5,505.1 1120.1,504 1120.7,505 1121.3,504.8 1121.9,504.6 1122.5,505.2 1123.1,506 1123.7,505.4 1124.3,505.1 1124.8,505.6 1125.4,505.9 1126,505.7 1126.6,506.5 1127.2,506.2 1127.8,505.5 1128.4,505.7 1129,505.4 1129.6,504.4 1130.2,505.2 1130.8,505.4 1131.4,506.3 1131.9,506.2 1132.5,505.1 1133.1,506 1133.7,505.1 1134.3,506.2 1134.9,505.3 1135.5,505.4 1136.1,504.7 1136.7,505.7 1137.3,505.7 1137.9,505.2 1138.5,505.3 1139,504.1 1139.6,505.6 1140.2,505.7 1140.8,505.6 1141.4,505 1142,505.1 1142.6,504.7 1143.2,506.2 1143.8,503.3 1144.4,503.7 1145,505 1145.6,505.8 1146.1,504.7 1146.7,504.3 1147.3,506.1 1147.9,504.2 1148.5,505 1149.1,503.2 1149.7,502.1 1150.3,501.8 1150.9,503.1 1151.5,500.2 1152.1,499.8 1152.7,499.7 1153.2,497.9 1153.8,495.9 1154.4,495.8 1155,493.8 1155.6,492.3 1156.2,488.9 1156.8,488.9 1157.4,483.6 1158,482.4 1158.6,477.7 1159.2,476.1 1159.8,471.7 1160.3,467.4 1160.9,461.9 1161.5,459.1 1162.1,452.5 1162.7,448.3 1163.3,441.6 1163.9,437.3 1164.5,431.2 1165.1,426.1 1165.7,419 1166.3,415.1 1166.9,409.5 1167.4,402.8 1168,399.2 1168.6,394.1 1169.2,390.9 1169.8,386.4 1170.4,384.9 1171,380.3 1171.6,378.6 1172.2,377.7 1172.8,376.6 1173.4,374.4 1174,375.3 1174.5,377.7 1175.1,376.8 1175.7,380.9 1176.3,383.5 1176.9,386.3 1177.5,391.2 1178.1,395.8 1178.7,399.8 1179.3,403.4 1179.9,408.7 1180.5,416 1181.1,419.5 1181.6,425.9 1182.2,431.2 1182.8,437.1 1183.4,442.2 1184,448.6 1184.6,453.6 1185.2,458.4 1185.8,462.8 1186.4,466.5 1187,471.9 1187.6,473.7 1188.2,478.9 1188.7,482.1 1189.3,484.1 1189.9,487 1190.5,490 1191.1,492.7 1191.7,494.6 1192.3,496.7 1192.9,496.2 1193.5,497.5 1194.1,498.1 1194.7,500.1 1195.3,501 1195.8,501.4 1196.4,501.9 1197,503.3 1197.6,503.3 1198.2,502.3 1198.8,505.4 1199.4,505.4 1200,505.3 1200.6,504.2 1201.2,504 1201.8,505.3 1202.4,504.6 1202.9,505.2 1203.5,505 1204.1,505.7 1204.7,505.3 1205.3,505.3 1205.9,504.5 1206.5,503.7 1207.1,506.7 1207.7,505 1208.3,505.4 1208.9,504.7 1209.5,504.6 1210,504.8 1210.6,504.8 1211.2,506.1 1211.8,506.7 1212.4,504.2 1213,504.5 1213.6,506.1 1214.2,504.4 1214.8,504.9 1215.4,507.2 1216,504.7 1216.6,506.1 1217.1,504.5 1217.7,505.9 1218.3,505.9 1218.9,506.5 1219.5,505.6 1220.1,504.6 1220.7,505.9 1221.3,506.8 1221.9,503.8 1222.5,504 1223.1,504.9 1223.7,505.8 1224.2,506.2 1224.8,506.6 1225.4,504.9 1226,504.3 1226.6,506.1 1227.2,505.2 1227.8,505.4 1228.4,505.3 1229,504.7 1229.6,503.4 1230.2,505.3 1230.8,504 1231.3,503.7 1231.9,504.5 1232.5,504.1 1233.1,504.6 1233.7,502.5 1234.3,503.2 1234.9,502.7 1235.5,501.5 1236.1,501.4 1236.7,500.6 1237.3,499 1237.9,496.4 1238.4,496.3 1239,494.1 1239.6,493.8 1240.2,492.1 1240.8,487 1241.4,486.1 1242,484.1 1242.6,479.9 1243.2,476 1243.8,474.1 1244.4,469.5 1245,464.4 1245.5,460.8 1246.1,454.7 1246.7,449.6 1247.3,444.9 1247.9,440.2 1248.5,434.5 1249.1,429.5 1249.7,423.6 1250.3,417.8 1250.9,413 1251.5,406.9 1252.1,400.7 1252.6,398.4 1253.2,393.5 1253.8,389.2 1254.4,386 1255,383.7 1255.6,381.5 1256.2,378.7 1256.8,377.9 1257.4,377.4 1258,378.6 1258.6,378.3 1259.2,379.6 1259.7,382.3 1260.3,384.3 1260.9,386.3 1261.5,392.9 1262.1,395.2 1262.7,400.9 1263.3,405.9 1263.9,410.1 1264.5,414.7 1265.1,420.5 1265.7,426.9 1266.3,432.6 1266.8,437.4 1267.4,442.3 1268,448.2 1268.6,453.8 1269.2,456.2 1269.8,462.8 1270.4,466.6 1271,471.1 1271.6,474.9 1272.2,478 1272.8,481.5 1273.4,483.8 1273.9,487.9 1274.5,490.5 1275.1,490.2 1275.7,493.6 1276.3,494.7 1276.9,495.9 1277.5,497.7 1278.1,499.3 1278.7,501.4 1279.3,502.3 1279.9,501.1 1280.5,502 1281,502.6 1281.6,504.7 1282.2,505.4 1282.8,504.9 1283.4,505.2 1284,504.5 1284.6,505.5 1285.2,503.7 1285.8,505.4 1286.4,505.5 1287,504.5 1287.6,505 1288.1,505.9 1288.7,504.7 1289.3,503.9 1289.9,506.2 1290.5,505.5 1291.1,506.2 1291.7,506.8 1292.3,504.9 1292.9,504.9 1293.5,504.7 1294.1,505.1 1294.7,506.9 1295.2,505.4 1295.8,505.9 1296.4,506.3 1297,506.2 1297.6,504.8 1298.2,505.6 1298.8,503.9 1299.4,505 1300,506.8 1300.6,504.7 1301.2,504.5 1301.8,505.4 1302.3,506.3 1302.9,504.1 1303.5,506.4 1304.1,505.5 1304.7,506.8 1305.3,506.3 1305.9,506.7 1306.5,504.6 1307.1,504.5 1307.7,505.7 1308.3,506.4 1308.9,505.4 1309.4,505.1 1310,506.5 1310.6,506.3 1311.2,505.5 1311.8,504.9 1312.4,505.3 1313,505.1 1313.6,506.3 1314.2,507.3 1314.8,505.2 1315.4,506.1 1316,505.5 1316.5,505.7 1317.1,505 1317.7,506 1318.3,504.3 1318.9,505.4 1319.5,505 1320.1,504.9" stroke="#00b050" stroke-width="2.3" fill="none" stroke-linejoin="round"/>
<g font-size="20.8"><text x="782.8" y="549.5" text-anchor="middle">12</text><text x="836.6" y="549.5" text-anchor="middle">14</text><text x="890.4" y="549.5" text-anchor="middle">16</text><text x="944.2" y="549.5" text-anchor="middle">18</text><text x="998" y="549.5" text-anchor="middle">20</text><text x="1051.8" y="549.5" text-anchor="middle">22</text><text x="1105.6" y="549.5" text-anchor="middle">24</text><text x="1159.3" y="549.5" text-anchor="middle">26</text><text x="1213.1" y="549.5" text-anchor="middle">28</text><text x="1266.9" y="549.5" text-anchor="middle">30</text><text x="1320.7" y="549.5" text-anchor="middle">32</text><text x="765" y="513.7" text-anchor="end">0</text><text x="765" y="437.1" text-anchor="end">0.6</text><text x="765" y="360.6" text-anchor="end">1.2</text></g>
<text transform="translate(1047.4 584.4) scale(1 1.035)" font-size="25.1" text-anchor="middle">Time (ps)</text>
<text transform="translate(716.9 437.4) rotate(-90) scale(1 1.035)" font-size="25.1" text-anchor="middle">Power (a.u.)</text>
<text transform="translate(1053.4 342.9) scale(0.97 1)" font-size="30.5" text-anchor="middle">Data <tspan font-style="italic">B</tspan></text>
<rect x="1250.1" y="340.3" width="85.6" height="127.1" fill="#fff"/>
<g fill="none" stroke-linejoin="round" stroke-linecap="round" clip-path="url(#e1250_340)">
<clipPath id="e1250_340"><rect x="1250.1" y="340.3" width="85.6" height="127.1"/></clipPath>
<path d="M1250.1 457.2H1335.7" stroke="#30d0ff" stroke-width="11" opacity="0.6"/>
<path d="M1250.1,454 L1251.1,453.4 L1252,452.8 L1253,452.1 L1253.9,451.3 L1254.9,450.4 L1255.8,449.4 L1256.8,448.3 L1257.7,447.1 L1258.7,445.7 L1259.6,444.2 L1260.6,442.5 L1261.5,440.7 L1262.5,438.7 L1263.4,436.6 L1264.4,434.3 L1265.3,431.8 L1266.3,429.1 L1267.2,426.3 L1268.2,423.3 L1269.1,420.2 L1270.1,416.9 L1271,413.4 L1272,409.9 L1272.9,406.2 L1273.9,402.4 L1274.8,398.6 L1275.8,394.7 L1276.7,390.7 L1277.7,386.8 L1278.6,382.9 L1279.6,379.1 L1280.5,375.3 L1281.5,371.7 L1282.4,368.2 L1283.4,364.9 L1284.3,361.8 L1285.3,358.9 L1286.2,356.3 L1287.2,354 L1288.1,352 L1289.1,350.3 L1290,349 L1291,348.1 L1291.9,347.5 L1292.9,347.3 L1293.9,347.5 L1294.8,348.1 L1295.8,349 L1296.7,350.3 L1297.7,352 L1298.6,354 L1299.6,356.3 L1300.5,358.9 L1301.5,361.8 L1302.4,364.9 L1303.4,368.2 L1304.3,371.7 L1305.3,375.3 L1306.2,379.1 L1307.2,382.9 L1308.1,386.8 L1309.1,390.7 L1310,394.7 L1311,398.6 L1311.9,402.4 L1312.9,406.2 L1313.8,409.9 L1314.8,413.4 L1315.7,416.9 L1316.7,420.2 L1317.6,423.3 L1318.6,426.3 L1319.5,429.1 L1320.5,431.8 L1321.4,434.3 L1322.4,436.6 L1323.3,438.7 L1324.3,440.7 L1325.2,442.5 L1326.2,444.2 L1327.1,445.7 L1328.1,447.1 L1329,448.3 L1330,449.4 L1330.9,450.4 L1331.9,451.3 L1332.8,452.1 L1333.8,452.8 L1334.7,453.4 L1335.7,454 M1250.1,442.6 L1251.1,442.9 L1252,443 L1253,442.9 L1253.9,442.7 L1254.9,442.4 L1255.8,441.9 L1256.8,441.2 L1257.7,440.4 L1258.7,439.4 L1259.6,438.2 L1260.6,436.9 L1261.5,435.3 L1262.5,433.6 L1263.4,431.8 L1264.4,429.7 L1265.3,427.5 L1266.3,425 L1267.2,422.4 L1268.2,419.7 L1269.1,416.7 L1270.1,413.6 L1271,410.3 L1272,406.9 L1272.9,403.4 L1273.9,399.8 L1274.8,396 L1275.8,392.3 L1276.7,388.5 M1309.1,388.5 L1310,392.3 L1311,396 L1311.9,399.8 L1312.9,403.4 L1313.8,406.9 L1314.8,410.3 L1315.7,413.6 L1316.7,416.7 L1317.6,419.7 L1318.6,422.4 L1319.5,425 L1320.5,427.5 L1321.4,429.7 L1322.4,431.8 L1323.3,433.6 L1324.3,435.3 L1325.2,436.9 L1326.2,438.2 L1327.1,439.4 L1328.1,440.4 L1329,441.2 L1330,441.9 L1330.9,442.4 L1331.9,442.7 L1332.8,442.9 L1333.8,443 L1334.7,442.9 L1335.7,442.6 M1250.1,447.6 L1251.1,447.9 L1252,448 L1253,448 L1253.9,447.7 L1254.9,447.4 L1255.8,446.8 L1256.8,446 L1257.7,445.1 L1258.7,444 L1259.6,442.7 L1260.6,441.3 L1261.5,439.6 L1262.5,437.8 L1263.4,435.7 L1264.4,433.5 L1265.3,431.1 L1266.3,428.5 L1267.2,425.7 L1268.2,422.7 L1269.1,419.6 L1270.1,416.3 L1271,412.9 L1272,409.3 L1272.9,405.6 L1273.9,401.8 L1274.8,397.9 L1275.8,394 L1276.7,390 M1309.1,390 L1310,394 L1311,397.9 L1311.9,401.8 L1312.9,405.6 L1313.8,409.3 L1314.8,412.9 L1315.7,416.3 L1316.7,419.6 L1317.6,422.7 L1318.6,425.7 L1319.5,428.5 L1320.5,431.1 L1321.4,433.5 L1322.4,435.7 L1323.3,437.8 L1324.3,439.6 L1325.2,441.3 L1326.2,442.7 L1327.1,444 L1328.1,445.1 L1329,446 L1330,446.8 L1330.9,447.4 L1331.9,447.7 L1332.8,448 L1333.8,448 L1334.7,447.9 L1335.7,447.6" stroke="#20c0ff" stroke-width="4.4" opacity="0.6"/>
<path d="M1250.1 457.2H1335.7" stroke="#0028e8" stroke-width="8"/>
<path d="M1250.1,454 L1251.1,453.4 L1252,452.8 L1253,452.1 L1253.9,451.3 L1254.9,450.4 L1255.8,449.4 L1256.8,448.3 L1257.7,447.1 L1258.7,445.7 L1259.6,444.2 L1260.6,442.5 L1261.5,440.7 L1262.5,438.7 L1263.4,436.6 L1264.4,434.3 L1265.3,431.8 L1266.3,429.1 L1267.2,426.3 L1268.2,423.3 L1269.1,420.2 L1270.1,416.9 L1271,413.4 L1272,409.9 L1272.9,406.2 L1273.9,402.4 L1274.8,398.6 L1275.8,394.7 L1276.7,390.7 L1277.7,386.8 L1278.6,382.9 L1279.6,379.1 L1280.5,375.3 L1281.5,371.7 L1282.4,368.2 L1283.4,364.9 L1284.3,361.8 L1285.3,358.9 L1286.2,356.3 L1287.2,354 L1288.1,352 L1289.1,350.3 L1290,349 L1291,348.1 L1291.9,347.5 L1292.9,347.3 L1293.9,347.5 L1294.8,348.1 L1295.8,349 L1296.7,350.3 L1297.7,352 L1298.6,354 L1299.6,356.3 L1300.5,358.9 L1301.5,361.8 L1302.4,364.9 L1303.4,368.2 L1304.3,371.7 L1305.3,375.3 L1306.2,379.1 L1307.2,382.9 L1308.1,386.8 L1309.1,390.7 L1310,394.7 L1311,398.6 L1311.9,402.4 L1312.9,406.2 L1313.8,409.9 L1314.8,413.4 L1315.7,416.9 L1316.7,420.2 L1317.6,423.3 L1318.6,426.3 L1319.5,429.1 L1320.5,431.8 L1321.4,434.3 L1322.4,436.6 L1323.3,438.7 L1324.3,440.7 L1325.2,442.5 L1326.2,444.2 L1327.1,445.7 L1328.1,447.1 L1329,448.3 L1330,449.4 L1330.9,450.4 L1331.9,451.3 L1332.8,452.1 L1333.8,452.8 L1334.7,453.4 L1335.7,454 M1250.1,442.6 L1251.1,442.9 L1252,443 L1253,442.9 L1253.9,442.7 L1254.9,442.4 L1255.8,441.9 L1256.8,441.2 L1257.7,440.4 L1258.7,439.4 L1259.6,438.2 L1260.6,436.9 L1261.5,435.3 L1262.5,433.6 L1263.4,431.8 L1264.4,429.7 L1265.3,427.5 L1266.3,425 L1267.2,422.4 L1268.2,419.7 L1269.1,416.7 L1270.1,413.6 L1271,410.3 L1272,406.9 L1272.9,403.4 L1273.9,399.8 L1274.8,396 L1275.8,392.3 L1276.7,388.5 M1309.1,388.5 L1310,392.3 L1311,396 L1311.9,399.8 L1312.9,403.4 L1313.8,406.9 L1314.8,410.3 L1315.7,413.6 L1316.7,416.7 L1317.6,419.7 L1318.6,422.4 L1319.5,425 L1320.5,427.5 L1321.4,429.7 L1322.4,431.8 L1323.3,433.6 L1324.3,435.3 L1325.2,436.9 L1326.2,438.2 L1327.1,439.4 L1328.1,440.4 L1329,441.2 L1330,441.9 L1330.9,442.4 L1331.9,442.7 L1332.8,442.9 L1333.8,443 L1334.7,442.9 L1335.7,442.6 M1250.1,447.6 L1251.1,447.9 L1252,448 L1253,448 L1253.9,447.7 L1254.9,447.4 L1255.8,446.8 L1256.8,446 L1257.7,445.1 L1258.7,444 L1259.6,442.7 L1260.6,441.3 L1261.5,439.6 L1262.5,437.8 L1263.4,435.7 L1264.4,433.5 L1265.3,431.1 L1266.3,428.5 L1267.2,425.7 L1268.2,422.7 L1269.1,419.6 L1270.1,416.3 L1271,412.9 L1272,409.3 L1272.9,405.6 L1273.9,401.8 L1274.8,397.9 L1275.8,394 L1276.7,390 M1309.1,390 L1310,394 L1311,397.9 L1311.9,401.8 L1312.9,405.6 L1313.8,409.3 L1314.8,412.9 L1315.7,416.3 L1316.7,419.6 L1317.6,422.7 L1318.6,425.7 L1319.5,428.5 L1320.5,431.1 L1321.4,433.5 L1322.4,435.7 L1323.3,437.8 L1324.3,439.6 L1325.2,441.3 L1326.2,442.7 L1327.1,444 L1328.1,445.1 L1329,446 L1330,446.8 L1330.9,447.4 L1331.9,447.7 L1332.8,448 L1333.8,448 L1334.7,447.9 L1335.7,447.6" stroke="#0018e0" stroke-width="2.1"/>
<path d="M1250.1 457.2H1335.7" stroke="#0000b8" stroke-width="5"/>
<path d="M1250.1 457.2H1335.7" stroke="#000090" stroke-width="3"/>
<path d="M1285.3,359.1 L1286.2,356.5 L1287.2,354.2 L1288.1,352.2 L1289.1,350.5 L1290,349.2 L1291,348.3 L1291.9,347.7 L1292.9,347.5 L1293.9,347.7 L1294.8,348.3 L1295.8,349.2 L1296.7,350.5 L1297.7,352.2 L1298.6,354.2 L1299.6,356.5 L1300.5,359.1" stroke="#0008b0" stroke-width="2.6"/>
<path d="M1289.1,350.5 L1290,349.2 L1291,348.3 L1291.9,347.7 L1292.9,347.5 L1293.9,347.7 L1294.8,348.3 L1295.8,349.2 L1296.7,350.5" stroke="#000090" stroke-width="3.2"/>
</g>
<rect x="1250.1" y="340.3" width="85.6" height="127.1" fill="none" stroke="#404040" stroke-width="1.7"/>
<path d="M782.5 657.3V832.9M836.3 657.3V832.9M890.1 657.3V832.9M943.9 657.3V832.9M997.7 657.3V832.9M1051.5 657.3V832.9M1105.3 657.3V832.9M1159.1 657.3V832.9M1212.9 657.3V832.9M1266.7 657.3V832.9M774.2 813.1H1320.5M774.2 787.6H1320.5M774.2 762.1H1320.5M774.2 736.5H1320.5M774.2 711H1320.5M774.2 685.5H1320.5" stroke="#d6d6d6" stroke-width="1" stroke-dasharray="4 2.3" fill="none"/>
<path d="M782.5 832.9v-6M782.5 657.3v6M836.3 832.9v-6M836.3 657.3v6M890.1 832.9v-6M890.1 657.3v6M943.9 832.9v-6M943.9 657.3v6M997.7 832.9v-6M997.7 657.3v6M1051.5 832.9v-6M1051.5 657.3v6M1105.3 832.9v-6M1105.3 657.3v6M1159.1 832.9v-6M1159.1 657.3v6M1212.9 832.9v-6M1212.9 657.3v6M1266.7 832.9v-6M1266.7 657.3v6M1320.5 832.9v-6M1320.5 657.3v6M774.2 813.1h6M1320.5 813.1h-6M774.2 787.6h6M1320.5 787.6h-6M774.2 762.1h6M1320.5 762.1h-6M774.2 736.5h6M1320.5 736.5h-6M774.2 711h6M1320.5 711h-6M774.2 685.5h6M1320.5 685.5h-6M774.2 660h6M1320.5 660h-6" stroke="#000" stroke-width="1.8" fill="none"/>
<rect x="774.2" y="657.3" width="546.3" height="175.6" stroke="#000" stroke-width="1.8" fill="none"/>
<clipPath id="c5"><rect x="774.2" y="657.3" width="546.3" height="175.6"/></clipPath>
<polyline clip-path="url(#c5)" points="774.2,811.1 774.8,811.6 775.4,813.2 776,812.4 776.6,810.5 777.2,811.5 777.8,811.5 778.3,811.6 778.9,812.4 779.5,812.4 780.1,812.4 780.7,811 781.3,811.6 781.9,810.6 782.5,811.5 783.1,810.5 783.7,811.6 784.3,812.8 784.9,810.6 785.4,811.6 786,811 786.6,811.7 787.2,812.1 787.8,811.8 788.4,812.7 789,812.8 789.6,812.6 790.2,812.3 790.8,812.9 791.4,812 792,811.7 792.5,810.4 793.1,810.5 793.7,811.9 794.3,811.2 794.9,812.1 795.5,811.6 796.1,811.9 796.7,812.3 797.3,811.8 797.9,813 798.5,811.6 799.1,812.1 799.6,812.7 800.2,812.2 800.8,811.5 801.4,812.4 802,811.5 802.6,811.5 803.2,810.7 803.8,812.7 804.4,812 805,811.5 805.6,810.8 806.2,811.7 806.7,811.3 807.3,813 807.9,812.3 808.5,810.6 809.1,812.1 809.7,810.3 810.3,812.4 810.9,812.1 811.5,813.1 812.1,811.4 812.7,811.7 813.3,810.4 813.8,811.8 814.4,812.1 815,813 815.6,812 816.2,811.2 816.8,811.3 817.4,811 818,811.2 818.6,811.9 819.2,811.4 819.8,811.8 820.4,812.9 820.9,810.6 821.5,811.6 822.1,812.7 822.7,811.6 823.3,811.7 823.9,811.1 824.5,810.8 825.1,814.2 825.7,811.5 826.3,810.7 826.9,812.6 827.5,813.3 828,811.7 828.6,811.6 829.2,811.6 829.8,812.7 830.4,812.3 831,811.8 831.6,811.3 832.2,810.2 832.8,811.7 833.4,812.4 834,813.7 834.6,811.1 835.2,812 835.7,812 836.3,812.6 836.9,811.3 837.5,813.3 838.1,811.8 838.7,811.8 839.3,811.7 839.9,810.9 840.5,812 841.1,811.8 841.7,811.2 842.3,813.1 842.8,812.1 843.4,811.8 844,811.2 844.6,812.5 845.2,811.3 845.8,811.6 846.4,813 847,813 847.6,813 848.2,811.8 848.8,811.7 849.4,811.4 849.9,811.3 850.5,812.3 851.1,811.1 851.7,811.3 852.3,811.5 852.9,811.5 853.5,812.9 854.1,811.6 854.7,812.7 855.3,812.8 855.9,812.2 856.5,811.8 857,811.9 857.6,812.2 858.2,812.7 858.8,811.8 859.4,812.5 860,813 860.6,811.8 861.2,810.8 861.8,812.2 862.4,812.7 863,810.8 863.6,810.6 864.1,812.1 864.7,812.1 865.3,811.7 865.9,809.7 866.5,811.8 867.1,811.1 867.7,811.6 868.3,813.3 868.9,812.7 869.5,812.8 870.1,811.6 870.7,811.8 871.2,810.5 871.8,812.1 872.4,811.7 873,811.8 873.6,811.8 874.2,810.1 874.8,811.7 875.4,810.8 876,810.9 876.6,812.4 877.2,811.4 877.8,812.2 878.3,811.8 878.9,811.8 879.5,811.9 880.1,812.3 880.7,810.7 881.3,812.1 881.9,811.4 882.5,810.6 883.1,811.4 883.7,811.1 884.3,810.8 884.9,811.1 885.5,810.6 886,813 886.6,810.4 887.2,811.8 887.8,813.2 888.4,812.3 889,812.9 889.6,811.8 890.2,812.9 890.8,812.5 891.4,811.4 892,811.4 892.6,812.1 893.1,811.5 893.7,811.3 894.3,811 894.9,810.8 895.5,810.7 896.1,809.6 896.7,811.1 897.3,809.8 897.9,808.8 898.5,808.6 899.1,807.9 899.7,807 900.2,805.5 900.8,803.5 901.4,803.2 902,801.8 902.6,799.5 903.2,798 903.8,797.1 904.4,792.9 905,790.7 905.6,787.8 906.2,783.6 906.8,780.5 907.3,777.1 907.9,774.2 908.5,769.5 909.1,763.5 909.7,758.8 910.3,753.3 910.9,748.3 911.5,743.5 912.1,738.7 912.7,733.1 913.3,727 913.9,722.5 914.4,715.9 915,712.6 915.6,708.3 916.2,702.7 916.8,700 917.4,694 918,693 918.6,689.8 919.2,688.1 919.8,687.3 920.4,687.4 921,687.5 921.5,686 922.1,687.1 922.7,688.1 923.3,693.3 923.9,694.8 924.5,698.7 925.1,701.9 925.7,707.3 926.3,711 926.9,715.8 927.5,721.2 928.1,725.8 928.6,732.4 929.2,736.5 929.8,743.7 930.4,747.2 931,755.8 931.6,758.7 932.2,764.2 932.8,768.2 933.4,771.8 934,776.2 934.6,780.5 935.2,782.8 935.7,788.5 936.3,791 936.9,792 937.5,795.4 938.1,799.4 938.7,799.5 939.3,802.5 939.9,802 940.5,803.6 941.1,806 941.7,805.6 942.3,808.1 942.9,807.5 943.4,808.4 944,809.5 944.6,811 945.2,810.5 945.8,812.3 946.4,811.3 947,812.5 947.6,810.3 948.2,812.1 948.8,813.3 949.4,811.1 950,811.4 950.5,812.1 951.1,810.1 951.7,811.2 952.3,811.8 952.9,812.3 953.5,814.1 954.1,811.5 954.7,811.1 955.3,812.3 955.9,813 956.5,811.9 957.1,813.2 957.6,811.9 958.2,811.3 958.8,810.7 959.4,811.7 960,811.7 960.6,811.3 961.2,810.8 961.8,812.1 962.4,812.8 963,812.5 963.6,812.9 964.2,812.6 964.7,812 965.3,811.6 965.9,811.8 966.5,811.8 967.1,812.2 967.7,811.6 968.3,811.2 968.9,811.3 969.5,810.7 970.1,812.1 970.7,812.1 971.3,810.6 971.8,811.7 972.4,811.5 973,812.1 973.6,811 974.2,812.1 974.8,812.5 975.4,811.7 976,811.9 976.6,810.9 977.2,811.7 977.8,811.2 978.4,811.3 978.9,810.6 979.5,811.1 980.1,809.5 980.7,811.1 981.3,809.9 981.9,809.6 982.5,808 983.1,807.7 983.7,806.6 984.3,806.2 984.9,805.4 985.5,804.4 986,802.4 986.6,800.9 987.2,798.4 987.8,796.2 988.4,793.3 989,791.5 989.6,789.1 990.2,786.2 990.8,781.9 991.4,778 992,772.7 992.6,769.8 993.2,764.1 993.7,759.3 994.3,756.6 994.9,749.8 995.5,744.6 996.1,739.1 996.7,734.8 997.3,728.8 997.9,724.6 998.5,719.2 999.1,714.2 999.7,708.1 1000.3,705.3 1000.8,700.4 1001.4,697.6 1002,695.1 1002.6,691.8 1003.2,689.5 1003.8,689.1 1004.4,687.3 1005,688.2 1005.6,688.8 1006.2,689 1006.8,691 1007.4,693.8 1007.9,697.1 1008.5,699.2 1009.1,702.7 1009.7,707.4 1010.3,711.5 1010.9,717.6 1011.5,721.1 1012.1,726.3 1012.7,731.7 1013.3,737.7 1013.9,742.5 1014.5,747.8 1015,752.2 1015.6,757.9 1016.2,762.7 1016.8,768.1 1017.4,771.3 1018,775.2 1018.6,780.3 1019.2,783.1 1019.8,786.6 1020.4,790 1021,793.7 1021.6,793.8 1022.1,798.9 1022.7,799.2 1023.3,801.5 1023.9,801.9 1024.5,804.5 1025.1,805.4 1025.7,806 1026.3,807 1026.9,808.5 1027.5,808.2 1028.1,809 1028.7,809 1029.2,810.6 1029.8,810.5 1030.4,811.1 1031,811.6 1031.6,811 1032.2,811 1032.8,810.4 1033.4,811.8 1034,811.3 1034.6,810.8 1035.2,811.8 1035.8,811.7 1036.3,811.7 1036.9,812.4 1037.5,812.6 1038.1,811 1038.7,811.7 1039.3,811.9 1039.9,812.8 1040.5,811.8 1041.1,811 1041.7,812.8 1042.3,812.6 1042.9,811 1043.4,810.8 1044,810.7 1044.6,812.3 1045.2,811.4 1045.8,812.5 1046.4,811.5 1047,812.2 1047.6,811.7 1048.2,810.9 1048.8,811.6 1049.4,812.1 1050,811.9 1050.6,811.7 1051.1,812.3 1051.7,811.7 1052.3,811.4 1052.9,810.7 1053.5,813.5 1054.1,812.8 1054.7,812.8 1055.3,811.2 1055.9,810 1056.5,811.7 1057.1,811.7 1057.7,810.9 1058.2,813.6 1058.8,811.9 1059.4,814 1060,811.5 1060.6,811.9 1061.2,811.8 1061.8,811 1062.4,811.6 1063,810.1 1063.6,810.7 1064.2,810.1 1064.8,808.2 1065.3,810 1065.9,808.5 1066.5,809.3 1067.1,807 1067.7,806.4 1068.3,806.1 1068.9,804.4 1069.5,802.7 1070.1,801.4 1070.7,800.8 1071.3,799 1071.9,796.1 1072.4,795.7 1073,792.5 1073.6,788.8 1074.2,785.6 1074.8,781.3 1075.4,777.7 1076,774.8 1076.6,770.5 1077.2,767.3 1077.8,761.8 1078.4,756.5 1079,751.8 1079.5,746.3 1080.1,740.6 1080.7,736.4 1081.3,730.7 1081.9,726.3 1082.5,718.9 1083.1,715.5 1083.7,711.2 1084.3,704.9 1084.9,701.5 1085.5,696.9 1086.1,694.7 1086.6,690 1087.2,688.9 1087.8,687.8 1088.4,686.9 1089,686.8 1089.6,686.3 1090.2,686.3 1090.8,689.6 1091.4,692.3 1092,693.7 1092.6,696.5 1093.2,702.1 1093.7,705.6 1094.3,710.3 1094.9,713.8 1095.5,718.9 1096.1,725 1096.7,730.6 1097.3,734.6 1097.9,742.1 1098.5,745.4 1099.1,751.3 1099.7,754.8 1100.3,760.4 1100.9,766.4 1101.4,770.6 1102,774.9 1102.6,779.2 1103.2,782.3 1103.8,785.1 1104.4,790.1 1105,792 1105.6,793.3 1106.2,796.2 1106.8,799.4 1107.4,801.3 1108,803 1108.5,805 1109.1,804.2 1109.7,806.1 1110.3,807.6 1110.9,809 1111.5,808.9 1112.1,809.5 1112.7,808.4 1113.3,810.4 1113.9,810.3 1114.5,809.9 1115.1,810.4 1115.6,811.3 1116.2,812.9 1116.8,810.4 1117.4,811.1 1118,811.9 1118.6,811.7 1119.2,812.4 1119.8,812.4 1120.4,812.9 1121,811.4 1121.6,811.4 1122.2,811.7 1122.7,811.3 1123.3,811.5 1123.9,811.8 1124.5,812.6 1125.1,811.4 1125.7,811 1126.3,811.4 1126.9,811 1127.5,812.3 1128.1,812.6 1128.7,811 1129.3,812.3 1129.8,811.7 1130.4,812 1131,811.9 1131.6,812.1 1132.2,812.3 1132.8,813.2 1133.4,810.5 1134,811.7 1134.6,813.3 1135.2,812.6 1135.8,812.7 1136.4,812.5 1136.9,813.8 1137.5,811.5 1138.1,810.7 1138.7,812.1 1139.3,811.3 1139.9,811.4 1140.5,812.8 1141.1,810.9 1141.7,813.1 1142.3,812.2 1142.9,812 1143.5,810.7 1144,811.5 1144.6,811.6 1145.2,812.1 1145.8,811.3 1146.4,811.2 1147,810.5 1147.6,809.8 1148.2,810 1148.8,810.2 1149.4,809.9 1150,808.2 1150.6,808.7 1151.1,808.2 1151.7,806.1 1152.3,805.4 1152.9,805.1 1153.5,804.4 1154.1,803.4 1154.7,800.6 1155.3,800 1155.9,796.9 1156.5,796 1157.1,792.8 1157.7,789.9 1158.3,787.1 1158.8,783.7 1159.4,780 1160,777.3 1160.6,773.2 1161.2,768.1 1161.8,762 1162.4,758.6 1163,754.2 1163.6,748.8 1164.2,743.1 1164.8,736.9 1165.4,732.8 1165.9,726.7 1166.5,721.8 1167.1,717.2 1167.7,712.8 1168.3,707.7 1168.9,703.9 1169.5,699.2 1170.1,697.6 1170.7,692.6 1171.3,690.7 1171.9,689.1 1172.5,687.3 1173,687.6 1173.6,689.5 1174.2,689 1174.8,690.1 1175.4,693 1176,696 1176.6,698 1177.2,701.6 1177.8,706.4 1178.4,710.8 1179,715.9 1179.6,721 1180.1,726 1180.7,730.7 1181.3,738.3 1181.9,743 1182.5,747.2 1183.1,753.8 1183.7,759.3 1184.3,764.1 1184.9,770.6 1185.5,775.6 1186.1,780.6 1186.7,784.8 1187.2,787.6 1187.8,790.9 1188.4,795.3 1189,798.5 1189.6,800.5 1190.2,802.8 1190.8,805.1 1191.4,808.5 1192,808.9 1192.6,811.5 1193.2,810.1 1193.8,811.4 1194.3,811.3 1194.9,809.5 1195.5,809.1 1196.1,808.8 1196.7,807.7 1197.3,806.2 1197.9,804.9 1198.5,802.2 1199.1,798.2 1199.7,797.3 1200.3,793.9 1200.9,789.6 1201.4,785.1 1202,780.9 1202.6,777.7 1203.2,772.3 1203.8,767.3 1204.4,762.7 1205,756.2 1205.6,750.9 1206.2,744.1 1206.8,738.6 1207.4,733.7 1208,727.3 1208.6,721.9 1209.1,716.7 1209.7,711.3 1210.3,705.2 1210.9,701.8 1211.5,698.6 1212.1,694.2 1212.7,689.9 1213.3,686.4 1213.9,686.8 1214.5,685 1215.1,684.4 1215.7,685.2 1216.2,684.6 1216.8,686.3 1217.4,688 1218,689.1 1218.6,694.2 1219.2,697.1 1219.8,701.2 1220.4,706.9 1221,711.9 1221.6,715.5 1222.2,721.7 1222.8,727.8 1223.3,734.5 1223.9,738.9 1224.5,745 1225.1,749.5 1225.7,755.7 1226.3,761.7 1226.9,767.4 1227.5,772.6 1228.1,777.9 1228.7,781.8 1229.3,786.1 1229.9,789.7 1230.4,792.9 1231,796.8 1231.6,800.3 1232.2,801.9 1232.8,803.5 1233.4,807.2 1234,807.8 1234.6,808.9 1235.2,809.7 1235.8,810.3 1236.4,810.9 1237,810.8 1237.5,808.9 1238.1,808.1 1238.7,809.3 1239.3,808.6 1239.9,804.6 1240.5,803.2 1241.1,800.6 1241.7,798.5 1242.3,793.8 1242.9,790.6 1243.5,787.1 1244.1,781.8 1244.6,776.2 1245.2,772.1 1245.8,767.3 1246.4,763.3 1247,757 1247.6,751.9 1248.2,745.3 1248.8,739.9 1249.4,734.6 1250,728.4 1250.6,723.7 1251.2,717.1 1251.7,711.4 1252.3,707.8 1252.9,702.5 1253.5,700 1254.1,694.4 1254.7,691.3 1255.3,690.1 1255.9,686 1256.5,685.8 1257.1,686.5 1257.7,686.2 1258.3,685.1 1258.8,687.2 1259.4,688.1 1260,692.5 1260.6,694.5 1261.2,697.3 1261.8,702.7 1262.4,706.2 1263,711.8 1263.6,716.5 1264.2,721.9 1264.8,726.1 1265.4,734.4 1266,738.7 1266.5,744.1 1267.1,751.7 1267.7,756.4 1268.3,760.2 1268.9,766.5 1269.5,774.5 1270.1,777.3 1270.7,783 1271.3,785.7 1271.9,790.4 1272.5,793.9 1273.1,797.3 1273.6,799.4 1274.2,802.6 1274.8,805.2 1275.4,806.6 1276,807.7 1276.6,809.8 1277.2,809.2 1277.8,811.9 1278.4,810.5 1279,811 1279.6,809.1 1280.2,810 1280.7,808.9 1281.3,807.9 1281.9,803.7 1282.5,802.5 1283.1,801.3 1283.7,797.9 1284.3,795.2 1284.9,789.9 1285.5,786.9 1286.1,784.6 1286.7,778.5 1287.3,773.2 1287.8,768.9 1288.4,763.3 1289,758.3 1289.6,752.5 1290.2,746.8 1290.8,741.7 1291.4,735.1 1292,729.5 1292.6,724 1293.2,718.9 1293.8,713.9 1294.4,708 1294.9,702.9 1295.5,701.1 1296.1,695.9 1296.7,691.3 1297.3,688.9 1297.9,688.1 1298.5,685.1 1299.1,686 1299.7,685.7 1300.3,684.2 1300.9,687.1 1301.5,688.8 1302,692.2 1302.6,694.8 1303.2,698.4 1303.8,701.7 1304.4,707.4 1305,710.1 1305.6,716.3 1306.2,721.9 1306.8,727.5 1307.4,732.2 1308,737.4 1308.6,744.6 1309.1,748.9 1309.7,754.5 1310.3,760.2 1310.9,766.3 1311.5,772.8 1312.1,776 1312.7,781.4 1313.3,785.2 1313.9,790.7 1314.5,793.2 1315.1,796.1 1315.7,800 1316.3,801.7 1316.8,803 1317.4,806 1318,808.3 1318.6,807.3 1319.2,811.6 1319.8,811.2 1320.4,810.5" stroke="#c00000" stroke-width="2.3" fill="none" stroke-linejoin="round"/>
<g font-size="20.8"><text x="783" y="857.2" text-anchor="middle">12</text><text x="836.8" y="857.2" text-anchor="middle">14</text><text x="890.6" y="857.2" text-anchor="middle">16</text><text x="944.4" y="857.2" text-anchor="middle">18</text><text x="998.2" y="857.2" text-anchor="middle">20</text><text x="1052" y="857.2" text-anchor="middle">22</text><text x="1105.8" y="857.2" text-anchor="middle">24</text><text x="1159.6" y="857.2" text-anchor="middle">26</text><text x="1213.4" y="857.2" text-anchor="middle">28</text><text x="1267.2" y="857.2" text-anchor="middle">30</text><text x="1321" y="857.2" text-anchor="middle">32</text><text x="765.2" y="821.4" text-anchor="end">0</text><text x="765.2" y="744.8" text-anchor="end">0.6</text><text x="765.2" y="668.3" text-anchor="end">1.2</text></g>
<text transform="translate(1047.6 892.1) scale(1 1.035)" font-size="25.1" text-anchor="middle">Time (ps)</text>
<text transform="translate(717.1 745.1) rotate(-90) scale(1 1.035)" font-size="25.1" text-anchor="middle">Power (a.u.)</text>
<text transform="translate(1047.9 646.9) scale(0.97 1)" font-size="30.5" text-anchor="middle"><tspan font-style="italic">A</tspan> XNOR <tspan font-style="italic">B</tspan></text>
<rect x="1250.1" y="648" width="85.6" height="127.1" fill="#fff"/>
<g fill="none" stroke-linejoin="round" stroke-linecap="round" clip-path="url(#e1250_648)">
<clipPath id="e1250_648"><rect x="1250.1" y="648" width="85.6" height="127.1"/></clipPath>
<path d="M1250.1 764.9H1335.7" stroke="#30d0ff" stroke-width="11" opacity="0.6"/>
<path d="M1250.1,761.7 L1251.1,761.1 L1252,760.5 L1253,759.8 L1253.9,759 L1254.9,758.1 L1255.8,757.1 L1256.8,756 L1257.7,754.8 L1258.7,753.4 L1259.6,751.9 L1260.6,750.2 L1261.5,748.4 L1262.5,746.4 L1263.4,744.3 L1264.4,742 L1265.3,739.5 L1266.3,736.8 L1267.2,734 L1268.2,731 L1269.1,727.9 L1270.1,724.6 L1271,721.1 L1272,717.6 L1272.9,713.9 L1273.9,710.1 L1274.8,706.3 L1275.8,702.4 L1276.7,698.4 L1277.7,694.5 L1278.6,690.6 L1279.6,686.8 L1280.5,683 L1281.5,679.4 L1282.4,675.9 L1283.4,672.6 L1284.3,669.5 L1285.3,666.6 L1286.2,664 L1287.2,661.7 L1288.1,659.7 L1289.1,658 L1290,656.7 L1291,655.8 L1291.9,655.2 L1292.9,655 L1293.9,655.2 L1294.8,655.8 L1295.8,656.7 L1296.7,658 L1297.7,659.7 L1298.6,661.7 L1299.6,664 L1300.5,666.6 L1301.5,669.5 L1302.4,672.6 L1303.4,675.9 L1304.3,679.4 L1305.3,683 L1306.2,686.8 L1307.2,690.6 L1308.1,694.5 L1309.1,698.4 L1310,702.4 L1311,706.3 L1311.9,710.1 L1312.9,713.9 L1313.8,717.6 L1314.8,721.1 L1315.7,724.6 L1316.7,727.9 L1317.6,731 L1318.6,734 L1319.5,736.8 L1320.5,739.5 L1321.4,742 L1322.4,744.3 L1323.3,746.4 L1324.3,748.4 L1325.2,750.2 L1326.2,751.9 L1327.1,753.4 L1328.1,754.8 L1329,756 L1330,757.1 L1330.9,758.1 L1331.9,759 L1332.8,759.8 L1333.8,760.5 L1334.7,761.1 L1335.7,761.7 M1250.1,750.3 L1251.1,750.6 L1252,750.7 L1253,750.6 L1253.9,750.4 L1254.9,750.1 L1255.8,749.6 L1256.8,748.9 L1257.7,748.1 L1258.7,747.1 L1259.6,745.9 L1260.6,744.6 L1261.5,743 L1262.5,741.3 L1263.4,739.5 L1264.4,737.4 L1265.3,735.2 L1266.3,732.7 L1267.2,730.1 L1268.2,727.4 L1269.1,724.4 L1270.1,721.3 L1271,718 L1272,714.6 L1272.9,711.1 L1273.9,707.5 L1274.8,703.7 L1275.8,700 L1276.7,696.2 M1309.1,696.2 L1310,700 L1311,703.7 L1311.9,707.5 L1312.9,711.1 L1313.8,714.6 L1314.8,718 L1315.7,721.3 L1316.7,724.4 L1317.6,727.4 L1318.6,730.1 L1319.5,732.7 L1320.5,735.2 L1321.4,737.4 L1322.4,739.5 L1323.3,741.3 L1324.3,743 L1325.2,744.6 L1326.2,745.9 L1327.1,747.1 L1328.1,748.1 L1329,748.9 L1330,749.6 L1330.9,750.1 L1331.9,750.4 L1332.8,750.6 L1333.8,750.7 L1334.7,750.6 L1335.7,750.3 M1250.1,755.3 L1251.1,755.6 L1252,755.7 L1253,755.7 L1253.9,755.4 L1254.9,755.1 L1255.8,754.5 L1256.8,753.7 L1257.7,752.8 L1258.7,751.7 L1259.6,750.4 L1260.6,749 L1261.5,747.3 L1262.5,745.5 L1263.4,743.4 L1264.4,741.2 L1265.3,738.8 L1266.3,736.2 L1267.2,733.4 L1268.2,730.4 L1269.1,727.3 L1270.1,724 L1271,720.6 L1272,717 L1272.9,713.3 L1273.9,709.5 L1274.8,705.6 L1275.8,701.7 L1276.7,697.7 M1309.1,697.7 L1310,701.7 L1311,705.6 L1311.9,709.5 L1312.9,713.3 L1313.8,717 L1314.8,720.6 L1315.7,724 L1316.7,727.3 L1317.6,730.4 L1318.6,733.4 L1319.5,736.2 L1320.5,738.8 L1321.4,741.2 L1322.4,743.4 L1323.3,745.5 L1324.3,747.3 L1325.2,749 L1326.2,750.4 L1327.1,751.7 L1328.1,752.8 L1329,753.7 L1330,754.5 L1330.9,755.1 L1331.9,755.4 L1332.8,755.7 L1333.8,755.7 L1334.7,755.6 L1335.7,755.3" stroke="#20c8ff" stroke-width="6.5" opacity="0.55"/>
<path d="M1250.1,761.7 L1251.1,761.1 L1252,760.5 L1253,759.8 L1253.9,759 L1254.9,758.1 L1255.8,757.1 L1256.8,756 L1257.7,754.8 L1258.7,753.4 L1259.6,751.9 L1260.6,750.2 L1261.5,748.4 L1262.5,746.4 L1263.4,744.3 L1264.4,742 L1265.3,739.5 L1266.3,736.8 L1267.2,734 L1268.2,731 L1269.1,727.9 L1270.1,724.6 L1271,721.1 L1272,717.6 L1272.9,713.9 L1273.9,710.1 L1274.8,706.3 L1275.8,702.4 L1276.7,698.4 L1277.7,694.5 L1278.6,690.6 L1279.6,686.8 L1280.5,683 L1281.5,679.4 L1282.4,675.9 L1283.4,672.6 L1284.3,669.5 L1285.3,666.6 L1286.2,664 L1287.2,661.7 L1288.1,659.7 L1289.1,658 L1290,656.7 L1291,655.8 L1291.9,655.2 L1292.9,655 L1293.9,655.2 L1294.8,655.8 L1295.8,656.7 L1296.7,658 L1297.7,659.7 L1298.6,661.7 L1299.6,664 L1300.5,666.6 L1301.5,669.5 L1302.4,672.6 L1303.4,675.9 L1304.3,679.4 L1305.3,683 L1306.2,686.8 L1307.2,690.6 L1308.1,694.5 L1309.1,698.4 L1310,702.4 L1311,706.3 L1311.9,710.1 L1312.9,713.9 L1313.8,717.6 L1314.8,721.1 L1315.7,724.6 L1316.7,727.9 L1317.6,731 L1318.6,734 L1319.5,736.8 L1320.5,739.5 L1321.4,742 L1322.4,744.3 L1323.3,746.4 L1324.3,748.4 L1325.2,750.2 L1326.2,751.9 L1327.1,753.4 L1328.1,754.8 L1329,756 L1330,757.1 L1330.9,758.1 L1331.9,759 L1332.8,759.8 L1333.8,760.5 L1334.7,761.1 L1335.7,761.7 M1250.1,750.3 L1251.1,750.6 L1252,750.7 L1253,750.6 L1253.9,750.4 L1254.9,750.1 L1255.8,749.6 L1256.8,748.9 L1257.7,748.1 L1258.7,747.1 L1259.6,745.9 L1260.6,744.6 L1261.5,743 L1262.5,741.3 L1263.4,739.5 L1264.4,737.4 L1265.3,735.2 L1266.3,732.7 L1267.2,730.1 L1268.2,727.4 L1269.1,724.4 L1270.1,721.3 L1271,718 L1272,714.6 L1272.9,711.1 L1273.9,707.5 L1274.8,703.7 L1275.8,700 L1276.7,696.2 M1309.1,696.2 L1310,700 L1311,703.7 L1311.9,707.5 L1312.9,711.1 L1313.8,714.6 L1314.8,718 L1315.7,721.3 L1316.7,724.4 L1317.6,727.4 L1318.6,730.1 L1319.5,732.7 L1320.5,735.2 L1321.4,737.4 L1322.4,739.5 L1323.3,741.3 L1324.3,743 L1325.2,744.6 L1326.2,745.9 L1327.1,747.1 L1328.1,748.1 L1329,748.9 L1330,749.6 L1330.9,750.1 L1331.9,750.4 L1332.8,750.6 L1333.8,750.7 L1334.7,750.6 L1335.7,750.3 M1250.1,755.3 L1251.1,755.6 L1252,755.7 L1253,755.7 L1253.9,755.4 L1254.9,755.1 L1255.8,754.5 L1256.8,753.7 L1257.7,752.8 L1258.7,751.7 L1259.6,750.4 L1260.6,749 L1261.5,747.3 L1262.5,745.5 L1263.4,743.4 L1264.4,741.2 L1265.3,738.8 L1266.3,736.2 L1267.2,733.4 L1268.2,730.4 L1269.1,727.3 L1270.1,724 L1271,720.6 L1272,717 L1272.9,713.3 L1273.9,709.5 L1274.8,705.6 L1275.8,701.7 L1276.7,697.7 M1309.1,697.7 L1310,701.7 L1311,705.6 L1311.9,709.5 L1312.9,713.3 L1313.8,717 L1314.8,720.6 L1315.7,724 L1316.7,727.3 L1317.6,730.4 L1318.6,733.4 L1319.5,736.2 L1320.5,738.8 L1321.4,741.2 L1322.4,743.4 L1323.3,745.5 L1324.3,747.3 L1325.2,749 L1326.2,750.4 L1327.1,751.7 L1328.1,752.8 L1329,753.7 L1330,754.5 L1330.9,755.1 L1331.9,755.4 L1332.8,755.7 L1333.8,755.7 L1334.7,755.6 L1335.7,755.3" stroke="#0060ff" stroke-width="3.6" opacity="0.8"/>
<path d="M1250.1 764.9H1335.7" stroke="#0028e8" stroke-width="8"/>
<path d="M1250.1,761.7 L1251.1,761.1 L1252,760.5 L1253,759.8 L1253.9,759 L1254.9,758.1 L1255.8,757.1 L1256.8,756 L1257.7,754.8 L1258.7,753.4 L1259.6,751.9 L1260.6,750.2 L1261.5,748.4 L1262.5,746.4 L1263.4,744.3 L1264.4,742 L1265.3,739.5 L1266.3,736.8 L1267.2,734 L1268.2,731 L1269.1,727.9 L1270.1,724.6 L1271,721.1 L1272,717.6 L1272.9,713.9 L1273.9,710.1 L1274.8,706.3 L1275.8,702.4 L1276.7,698.4 L1277.7,694.5 L1278.6,690.6 L1279.6,686.8 L1280.5,683 L1281.5,679.4 L1282.4,675.9 L1283.4,672.6 L1284.3,669.5 L1285.3,666.6 L1286.2,664 L1287.2,661.7 L1288.1,659.7 L1289.1,658 L1290,656.7 L1291,655.8 L1291.9,655.2 L1292.9,655 L1293.9,655.2 L1294.8,655.8 L1295.8,656.7 L1296.7,658 L1297.7,659.7 L1298.6,661.7 L1299.6,664 L1300.5,666.6 L1301.5,669.5 L1302.4,672.6 L1303.4,675.9 L1304.3,679.4 L1305.3,683 L1306.2,686.8 L1307.2,690.6 L1308.1,694.5 L1309.1,698.4 L1310,702.4 L1311,706.3 L1311.9,710.1 L1312.9,713.9 L1313.8,717.6 L1314.8,721.1 L1315.7,724.6 L1316.7,727.9 L1317.6,731 L1318.6,734 L1319.5,736.8 L1320.5,739.5 L1321.4,742 L1322.4,744.3 L1323.3,746.4 L1324.3,748.4 L1325.2,750.2 L1326.2,751.9 L1327.1,753.4 L1328.1,754.8 L1329,756 L1330,757.1 L1330.9,758.1 L1331.9,759 L1332.8,759.8 L1333.8,760.5 L1334.7,761.1 L1335.7,761.7 M1250.1,750.3 L1251.1,750.6 L1252,750.7 L1253,750.6 L1253.9,750.4 L1254.9,750.1 L1255.8,749.6 L1256.8,748.9 L1257.7,748.1 L1258.7,747.1 L1259.6,745.9 L1260.6,744.6 L1261.5,743 L1262.5,741.3 L1263.4,739.5 L1264.4,737.4 L1265.3,735.2 L1266.3,732.7 L1267.2,730.1 L1268.2,727.4 L1269.1,724.4 L1270.1,721.3 L1271,718 L1272,714.6 L1272.9,711.1 L1273.9,707.5 L1274.8,703.7 L1275.8,700 L1276.7,696.2 M1309.1,696.2 L1310,700 L1311,703.7 L1311.9,707.5 L1312.9,711.1 L1313.8,714.6 L1314.8,718 L1315.7,721.3 L1316.7,724.4 L1317.6,727.4 L1318.6,730.1 L1319.5,732.7 L1320.5,735.2 L1321.4,737.4 L1322.4,739.5 L1323.3,741.3 L1324.3,743 L1325.2,744.6 L1326.2,745.9 L1327.1,747.1 L1328.1,748.1 L1329,748.9 L1330,749.6 L1330.9,750.1 L1331.9,750.4 L1332.8,750.6 L1333.8,750.7 L1334.7,750.6 L1335.7,750.3 M1250.1,755.3 L1251.1,755.6 L1252,755.7 L1253,755.7 L1253.9,755.4 L1254.9,755.1 L1255.8,754.5 L1256.8,753.7 L1257.7,752.8 L1258.7,751.7 L1259.6,750.4 L1260.6,749 L1261.5,747.3 L1262.5,745.5 L1263.4,743.4 L1264.4,741.2 L1265.3,738.8 L1266.3,736.2 L1267.2,733.4 L1268.2,730.4 L1269.1,727.3 L1270.1,724 L1271,720.6 L1272,717 L1272.9,713.3 L1273.9,709.5 L1274.8,705.6 L1275.8,701.7 L1276.7,697.7 M1309.1,697.7 L1310,701.7 L1311,705.6 L1311.9,709.5 L1312.9,713.3 L1313.8,717 L1314.8,720.6 L1315.7,724 L1316.7,727.3 L1317.6,730.4 L1318.6,733.4 L1319.5,736.2 L1320.5,738.8 L1321.4,741.2 L1322.4,743.4 L1323.3,745.5 L1324.3,747.3 L1325.2,749 L1326.2,750.4 L1327.1,751.7 L1328.1,752.8 L1329,753.7 L1330,754.5 L1330.9,755.1 L1331.9,755.4 L1332.8,755.7 L1333.8,755.7 L1334.7,755.6 L1335.7,755.3" stroke="#0028f0" stroke-width="1.8"/>
<path d="M1250.1 764.9H1335.7" stroke="#0000b8" stroke-width="5"/>
<path d="M1250.1 764.9H1335.7" stroke="#000090" stroke-width="3"/>
<path d="M1285.3,666.8 L1286.2,664.2 L1287.2,661.9 L1288.1,659.9 L1289.1,658.2 L1290,656.9 L1291,656 L1291.9,655.4 L1292.9,655.2 L1293.9,655.4 L1294.8,656 L1295.8,656.9 L1296.7,658.2 L1297.7,659.9 L1298.6,661.9 L1299.6,664.2 L1300.5,666.8" stroke="#0008b0" stroke-width="2.6"/>
<path d="M1289.1,658.2 L1290,656.9 L1291,656 L1291.9,655.4 L1292.9,655.2 L1293.9,655.4 L1294.8,656 L1295.8,656.9 L1296.7,658.2" stroke="#000090" stroke-width="3.2"/>
</g>
<rect x="1250.1" y="648" width="85.6" height="127.1" fill="none" stroke="#404040" stroke-width="1.7"/>
<defs>
<linearGradient id="gg" x1="0" y1="0" x2="0" y2="1"><stop offset="0" stop-color="#00b050"/><stop offset="1" stop-color="#009640"/></linearGradient>
<linearGradient id="og" x1="0" y1="0" x2="1" y2="0"><stop offset="0" stop-color="#ee7d2a"/><stop offset="0.6" stop-color="#fcb81c"/><stop offset="1" stop-color="#ffd040"/></linearGradient>
<linearGradient id="cg" x1="0" y1="0" x2="0" y2="1"><stop offset="0" stop-color="#ffc820"/><stop offset="1" stop-color="#f08a20"/></linearGradient>
</defs>
<g stroke="#404040" stroke-width="2.9" fill="none" stroke-linecap="round">
<path d="M233.7 645.2H278M233.7 681.4H278"/>
<path d="M264.2 627.2Q281 663.2 264.2 698.6"/>
<path d="M389 663.2H436"/>
</g>
<path d="M275 627.2H318.2Q352 633 371.3 663.2Q352 693 318.2 698.6H275Q291 663.2 275 627.2Z" fill="url(#gg)" stroke="#404040" stroke-width="2.9" stroke-linejoin="round"/>
<circle cx="380.8" cy="663.3" r="7.5" fill="#fff" stroke="#404040" stroke-width="2.9"/>
<text x="203" y="650" font-size="29" font-style="italic">A</text>
<text x="203" y="693" font-size="29" font-style="italic">B</text>
<text x="449.3" y="674" font-size="29"><tspan font-style="italic">A</tspan> XNOR <tspan font-style="italic">B</tspan></text>
<g stroke="#202020" stroke-width="1.2" fill="none" stroke-dasharray="2.6 1.6">
<path d="M254.4 684.2L241 749.1M401.8 666.3L498.2 749.1"/>
<rect x="242.3" y="751.6" width="257.4" height="119.5" stroke="#e2e2e2"/>
<rect x="240.8" y="749.1" width="257.4" height="119.5"/>
</g>
<g stroke="#404040" stroke-width="2.8" fill="none" stroke-linecap="round" stroke-linejoin="round">
<path d="M271 785.3H300M361.7 785.3H393.3L425.4 817.1H481.3M271 848.8H393.3L425.4 817.1"/>
</g>
<path d="M298.1 753.2L342.8 786.6L298.1 820.6Z" fill="url(#og)" stroke="#555" stroke-width="1"/>
<path d="M298.1 753.2L342.8 786.6L298.1 820.6" fill="none" stroke="#000" stroke-width="2.3" stroke-linejoin="miter"/>
<ellipse cx="352.8" cy="786.4" rx="8.1" ry="9.3" fill="url(#cg)" stroke="#000" stroke-width="2.3"/>
<text x="299.6" y="795.8" font-size="25" fill="#1c3470" stroke="#1c3470" stroke-width="0.35">FD</text>
</svg>
</body></html>
